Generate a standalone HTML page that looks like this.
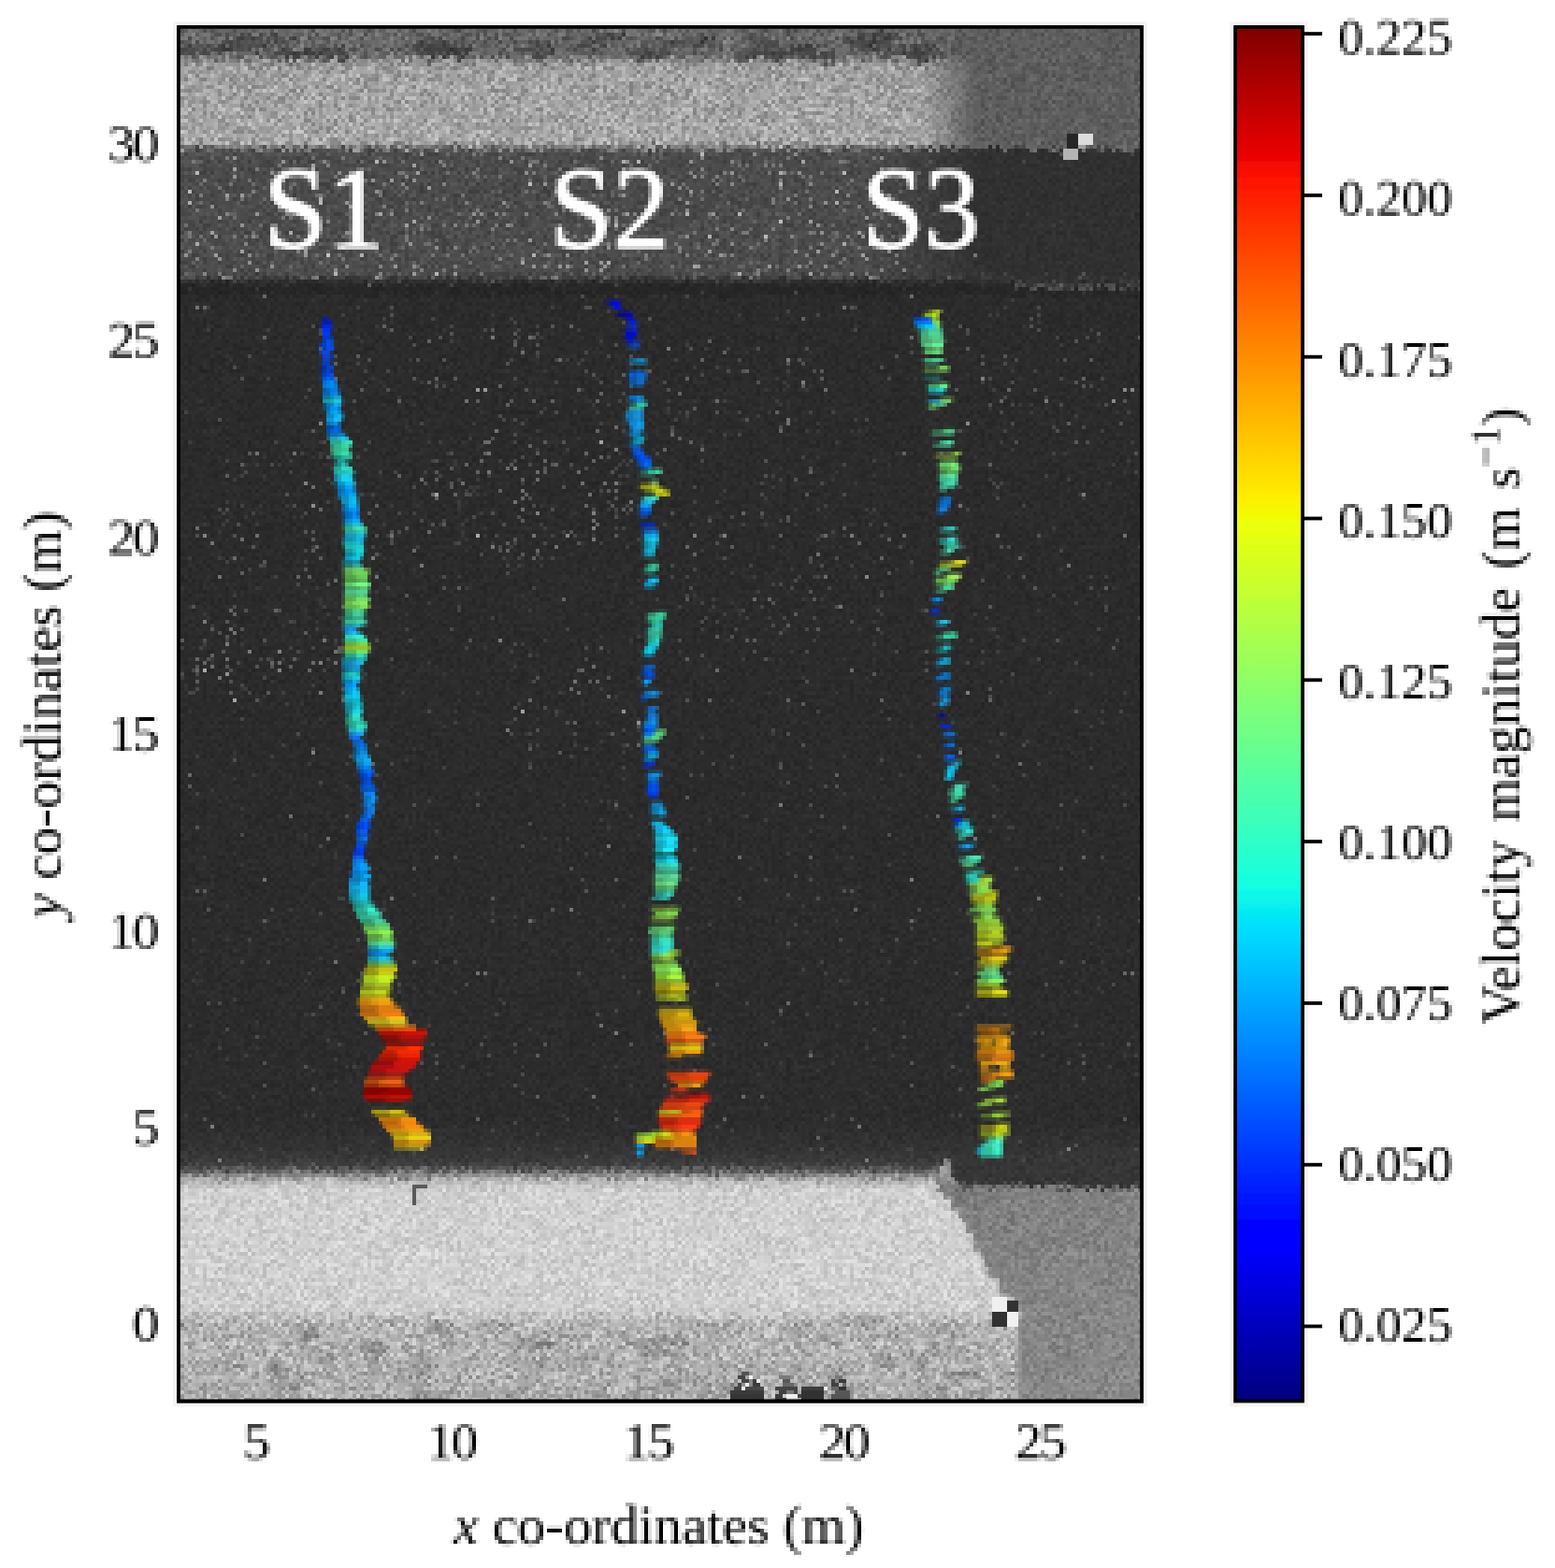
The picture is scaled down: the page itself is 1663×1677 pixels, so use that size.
<!DOCTYPE html>
<html lang="en"><head><meta charset="utf-8"><title>Velocity magnitude tracks</title>
<style>
html,body{margin:0;padding:0;background:#fff;}
svg{display:block;}
text{font-family:"Liberation Serif","DejaVu Serif",serif;fill:#000;}
.tk{font-size:58px;}
.lab{font-size:60px;}
.s{font-size:124px;fill:#fff;stroke:#fff;stroke-width:1.8px;}
.fI{filter:url(#imgF);}
.fB{filter:url(#fs);}
@media (min-resolution:.99dppx) and (max-resolution:1.01dppx){
.fI{filter:url(#img);}
.fD{filter:url(#fs);}.fT1{filter:url(#pxT1);}.fT2{filter:url(#pxT2);}.fT3{filter:url(#pxT3);}.fS{filter:url(#pxS);}.fC{filter:url(#pxC);}.fY{filter:url(#pxY);}.fX{filter:url(#pxX);}
.fL1{filter:url(#pxL1);}.fL2{filter:url(#pxL2);}.fL3{filter:url(#pxL3);}
}
</style></head><body>
<svg width="1663" height="1677" viewBox="0 0 1663 1677">
<defs>
<linearGradient id="jet" x1="0" y1="1" x2="0" y2="0">
<stop offset="0" stop-color="#000080"/>
<stop offset="0.11" stop-color="#0000ff"/>
<stop offset="0.125" stop-color="#0000ff"/>
<stop offset="0.34" stop-color="#00dbff"/>
<stop offset="0.35" stop-color="#00e5f7"/>
<stop offset="0.375" stop-color="#14ffe2"/>
<stop offset="0.5" stop-color="#7bff7b"/>
<stop offset="0.64" stop-color="#eeff08"/>
<stop offset="0.65" stop-color="#f7f600"/>
<stop offset="0.66" stop-color="#ffec00"/>
<stop offset="0.89" stop-color="#ff1300"/>
<stop offset="0.91" stop-color="#e80000"/>
<stop offset="1" stop-color="#800000"/>
</linearGradient>
<linearGradient id="vbase" gradientUnits="userSpaceOnUse" x1="0" y1="0" x2="0" y2="1677">
<stop offset="0.01789" stop-color="#6400cc"/><stop offset="0.03459" stop-color="#6400cc"/><stop offset="0.04174" stop-color="#a00099"/><stop offset="0.09183" stop-color="#a60099"/><stop offset="0.09600" stop-color="#4c5480"/><stop offset="0.11926" stop-color="#4a5480"/><stop offset="0.17531" stop-color="#4c5780"/><stop offset="0.18068" stop-color="#283859"/><stop offset="0.18545" stop-color="#243859"/><stop offset="0.18903" stop-color="#2b3966"/><stop offset="0.45319" stop-color="#2b3966"/><stop offset="0.53667" stop-color="#2b3866"/><stop offset="0.71556" stop-color="#2c3866"/><stop offset="0.73465" stop-color="#343866"/><stop offset="0.74299" stop-color="#3e3366"/><stop offset="0.74717" stop-color="#641a66"/><stop offset="0.75253" stop-color="#b4004c"/><stop offset="0.75850" stop-color="#d00045"/><stop offset="0.83363" stop-color="#cf004c"/><stop offset="0.84436" stop-color="#b40099"/><stop offset="0.89267" stop-color="#ac0099"/></linearGradient>
<linearGradient id="fadeR" gradientUnits="userSpaceOnUse" x1="930" y1="0" x2="1050" y2="0">
<stop offset="0" stop-color="#303059" stop-opacity="0"/><stop offset="1" stop-color="#303059" stop-opacity="1"/></linearGradient>
<linearGradient id="fadeTR" gradientUnits="userSpaceOnUse" x1="985" y1="0" x2="1045" y2="0">
<stop offset="0" stop-color="#5d1a73" stop-opacity="0"/><stop offset="1" stop-color="#5d1a73" stop-opacity="1"/></linearGradient>
<linearGradient id="brg" gradientUnits="userSpaceOnUse" x1="1000" y1="1262" x2="1220" y2="1500">
<stop offset="0" stop-color="#700066"/><stop offset="0.12" stop-color="#7e0066"/><stop offset="1" stop-color="#8a0066"/></linearGradient>
<clipPath id="imgclip"><rect x="191.8" y="29.8" width="1028.4" height="1467.8"/></clipPath>
<filter id="img" filterUnits="userSpaceOnUse" primitiveUnits="userSpaceOnUse" x="189" y="27" width="1036" height="1476" color-interpolation-filters="sRGB">
<feFlood flood-color="#fff" x="189" y="27" width="1" height="1" result="dot"/>
<feOffset in="dot" dx="0" dy="0" x="189" y="27" width="4" height="4" result="tile"/>
<feTile in="tile" result="lat"/>
<feTurbulence type="fractalNoise" baseFrequency="0.37 0.41" numOctaves="1" seed="7" result="t"/>
<feColorMatrix in="t" type="matrix" values="2.6 0 0 0 -0.8  0 1.4 0 0 -0.2  0 0 2.6 0 -0.8  0 0 0 0 1" result="tg"/>
<feComposite in="tg" in2="lat" operator="in" result="ts"/>
<feConvolveMatrix in="ts" order="4 1" kernelMatrix="1 1 1 1" divisor="1" targetX="3" targetY="0" edgeMode="none" preserveAlpha="false" result="nh"/>
<feConvolveMatrix in="nh" order="1 4" kernelMatrix="1 1 1 1" divisor="1" targetX="0" targetY="3" edgeMode="none" preserveAlpha="false" result="nb"/>
<feDisplacementMap in="SourceGraphic" in2="nb" scale="9" xChannelSelector="R" yChannelSelector="B" result="P"/>
<feColorMatrix in="P" type="matrix" values="1 0 0 0 0  1 0 0 0 0  1 0 0 0 0  0 0 0 0 1" result="L"/>
<feColorMatrix in="P" type="matrix" values="0 0 1 0 0  0 0 1 0 0  0 0 1 0 0  0 0 0 0 1" result="A"/>
<feColorMatrix in="P" type="matrix" values="0 1 0 0 0  0 1 0 0 0  0 1 0 0 0  0 0 0 0 1" result="D"/>
<feColorMatrix in="nb" type="matrix" values=".7 0 0 0 .15  .7 0 0 0 .15  .7 0 0 0 .15  0 0 0 0 1" result="N1"/>
<feColorMatrix in="nb" type="matrix" values="0 1 0 0 0  0 1 0 0 0  0 1 0 0 0  0 0 0 0 1" result="N2"/>
<feComposite in="A" in2="N1" operator="arithmetic" k1="1" k2="-0.5" k3="0" k4="0.5" result="T1"/>
<feComposite in="L" in2="T1" operator="arithmetic" k1="1" k2="0.5" k3="0" k4="0" result="G1"/>
<feComposite in="N2" in2="D" operator="arithmetic" k1="0" k2="1" k3="1" k4="-1" result="S0"/>
<feComponentTransfer in="S0" result="S1"><feFuncR type="linear" slope="4"/><feFuncG type="linear" slope="4"/><feFuncB type="linear" slope="4"/></feComponentTransfer>
<feComposite in="G1" in2="S1" operator="arithmetic" k1="0" k2="1" k3="0.5" k4="0" result="fin"/>
<feConvolveMatrix in="fin" order="4 1" kernelMatrix="1 1 1 1" divisor="4" targetX="0" targetY="0" edgeMode="duplicate" preserveAlpha="false" result="ah"/>
<feConvolveMatrix in="ah" order="1 4" kernelMatrix="1 1 1 1" divisor="4" targetX="0" targetY="0" edgeMode="duplicate" preserveAlpha="false" result="avg"/>
<feComposite in="avg" in2="lat" operator="in" result="smp"/>
<feConvolveMatrix in="smp" order="4 1" kernelMatrix="1 1 1 1" divisor="1" targetX="3" targetY="0" edgeMode="none" preserveAlpha="false" result="bh"/>
<feConvolveMatrix in="bh" order="1 4" kernelMatrix="1 1 1 1" divisor="1" targetX="0" targetY="3" edgeMode="none" preserveAlpha="false" result="blk"/>
<feGaussianBlur in="blk" stdDeviation="0.55"/>
</filter>
<filter id="imgF" filterUnits="userSpaceOnUse" primitiveUnits="userSpaceOnUse" x="189" y="27" width="1036" height="1476" color-interpolation-filters="sRGB">
<feTurbulence type="fractalNoise" baseFrequency="0.19 0.21" numOctaves="1" seed="7" result="t"/>
<feColorMatrix in="t" type="matrix" values="2.6 0 0 0 -0.8  0 1.4 0 0 -0.2  0 0 2.6 0 -0.8  0 0 0 0 1" result="nb"/>
<feDisplacementMap in="SourceGraphic" in2="nb" scale="9" xChannelSelector="R" yChannelSelector="B" result="P"/>
<feColorMatrix in="P" type="matrix" values="1 0 0 0 0  1 0 0 0 0  1 0 0 0 0  0 0 0 0 1" result="L"/>
<feColorMatrix in="P" type="matrix" values="0 0 1 0 0  0 0 1 0 0  0 0 1 0 0  0 0 0 0 1" result="A"/>
<feColorMatrix in="P" type="matrix" values="0 1 0 0 0  0 1 0 0 0  0 1 0 0 0  0 0 0 0 1" result="D"/>
<feColorMatrix in="nb" type="matrix" values=".7 0 0 0 .15  .7 0 0 0 .15  .7 0 0 0 .15  0 0 0 0 1" result="N1"/>
<feColorMatrix in="nb" type="matrix" values="0 1 0 0 0  0 1 0 0 0  0 1 0 0 0  0 0 0 0 1" result="N2"/>
<feComposite in="A" in2="N1" operator="arithmetic" k1="1" k2="-0.5" k3="0" k4="0.5" result="T1"/>
<feComposite in="L" in2="T1" operator="arithmetic" k1="1" k2="0.5" k3="0" k4="0" result="G1"/>
<feComposite in="N2" in2="D" operator="arithmetic" k1="0" k2="1" k3="1" k4="-1" result="S0"/>
<feComponentTransfer in="S0" result="S1"><feFuncR type="linear" slope="4"/><feFuncG type="linear" slope="4"/><feFuncB type="linear" slope="4"/></feComponentTransfer>
<feComposite in="G1" in2="S1" operator="arithmetic" k1="0" k2="1" k3="0.5" k4="0"/>
</filter>
<filter id="pxT1" filterUnits="userSpaceOnUse" primitiveUnits="userSpaceOnUse" x="329" y="327" width="144" height="916" color-interpolation-filters="sRGB">
<feFlood flood-color="#fff" x="333" y="331" width="1" height="1" result="dot"/>
<feOffset in="dot" dx="0" dy="0" x="333" y="331" width="4" height="4" result="tile"/>
<feTile in="tile" result="lat"/>
<feConvolveMatrix in="SourceGraphic" order="4 1" kernelMatrix="1 1 1 1" divisor="4" targetX="0" targetY="0" edgeMode="none" preserveAlpha="false" result="ah"/>
<feConvolveMatrix in="ah" order="1 4" kernelMatrix="1 1 1 1" divisor="4" targetX="0" targetY="0" edgeMode="none" preserveAlpha="false" result="avg"/>
<feComposite in="avg" in2="lat" operator="in" result="smp"/>
<feConvolveMatrix in="smp" order="4 1" kernelMatrix="1 1 1 1" divisor="1" targetX="3" targetY="0" edgeMode="none" preserveAlpha="false" result="bh"/>
<feConvolveMatrix in="bh" order="1 4" kernelMatrix="1 1 1 1" divisor="1" targetX="0" targetY="3" edgeMode="none" preserveAlpha="false" result="blk"/>
<feGaussianBlur in="blk" stdDeviation="0.55"/>
</filter>
<filter id="pxT2" filterUnits="userSpaceOnUse" primitiveUnits="userSpaceOnUse" x="637" y="307" width="136" height="944" color-interpolation-filters="sRGB">
<feFlood flood-color="#fff" x="641" y="311" width="1" height="1" result="dot"/>
<feOffset in="dot" dx="0" dy="0" x="641" y="311" width="4" height="4" result="tile"/>
<feTile in="tile" result="lat"/>
<feConvolveMatrix in="SourceGraphic" order="4 1" kernelMatrix="1 1 1 1" divisor="4" targetX="0" targetY="0" edgeMode="none" preserveAlpha="false" result="ah"/>
<feConvolveMatrix in="ah" order="1 4" kernelMatrix="1 1 1 1" divisor="4" targetX="0" targetY="0" edgeMode="none" preserveAlpha="false" result="avg"/>
<feComposite in="avg" in2="lat" operator="in" result="smp"/>
<feConvolveMatrix in="smp" order="4 1" kernelMatrix="1 1 1 1" divisor="1" targetX="3" targetY="0" edgeMode="none" preserveAlpha="false" result="bh"/>
<feConvolveMatrix in="bh" order="1 4" kernelMatrix="1 1 1 1" divisor="1" targetX="0" targetY="3" edgeMode="none" preserveAlpha="false" result="blk"/>
<feGaussianBlur in="blk" stdDeviation="0.55"/>
</filter>
<filter id="pxT3" filterUnits="userSpaceOnUse" primitiveUnits="userSpaceOnUse" x="965" y="319" width="128" height="932" color-interpolation-filters="sRGB">
<feFlood flood-color="#fff" x="969" y="323" width="1" height="1" result="dot"/>
<feOffset in="dot" dx="0" dy="0" x="969" y="323" width="4" height="4" result="tile"/>
<feTile in="tile" result="lat"/>
<feConvolveMatrix in="SourceGraphic" order="4 1" kernelMatrix="1 1 1 1" divisor="4" targetX="0" targetY="0" edgeMode="none" preserveAlpha="false" result="ah"/>
<feConvolveMatrix in="ah" order="1 4" kernelMatrix="1 1 1 1" divisor="4" targetX="0" targetY="0" edgeMode="none" preserveAlpha="false" result="avg"/>
<feComposite in="avg" in2="lat" operator="in" result="smp"/>
<feConvolveMatrix in="smp" order="4 1" kernelMatrix="1 1 1 1" divisor="1" targetX="3" targetY="0" edgeMode="none" preserveAlpha="false" result="bh"/>
<feConvolveMatrix in="bh" order="1 4" kernelMatrix="1 1 1 1" divisor="1" targetX="0" targetY="3" edgeMode="none" preserveAlpha="false" result="blk"/>
<feGaussianBlur in="blk" stdDeviation="0.55"/>
</filter>
<filter id="pxS" filterUnits="userSpaceOnUse" primitiveUnits="userSpaceOnUse" x="269" y="163" width="792" height="120" color-interpolation-filters="sRGB">
<feFlood flood-color="#fff" x="273" y="167" width="1" height="1" result="dot"/>
<feOffset in="dot" dx="0" dy="0" x="273" y="167" width="4" height="4" result="tile"/>
<feTile in="tile" result="lat"/>
<feConvolveMatrix in="SourceGraphic" order="4 1" kernelMatrix="1 1 1 1" divisor="4" targetX="0" targetY="0" edgeMode="none" preserveAlpha="false" result="ah"/>
<feConvolveMatrix in="ah" order="1 4" kernelMatrix="1 1 1 1" divisor="4" targetX="0" targetY="0" edgeMode="none" preserveAlpha="false" result="avg"/>
<feComposite in="avg" in2="lat" operator="in" result="smp"/>
<feConvolveMatrix in="smp" order="4 1" kernelMatrix="1 1 1 1" divisor="1" targetX="3" targetY="0" edgeMode="none" preserveAlpha="false" result="bh"/>
<feConvolveMatrix in="bh" order="1 4" kernelMatrix="1 1 1 1" divisor="1" targetX="0" targetY="3" edgeMode="none" preserveAlpha="false" result="blk"/>
<feGaussianBlur in="blk" stdDeviation="0.55"/>
</filter>
<filter id="pxY" filterUnits="userSpaceOnUse" primitiveUnits="userSpaceOnUse" x="97" y="119" width="84" height="1332" color-interpolation-filters="sRGB">
<feFlood flood-color="#fff" x="101" y="123" width="1" height="1" result="dot"/>
<feOffset in="dot" dx="0" dy="0" x="101" y="123" width="4" height="4" result="tile"/>
<feTile in="tile" result="lat"/>
<feConvolveMatrix in="SourceGraphic" order="4 1" kernelMatrix="1 1 1 1" divisor="4" targetX="0" targetY="0" edgeMode="none" preserveAlpha="false" result="ah"/>
<feConvolveMatrix in="ah" order="1 4" kernelMatrix="1 1 1 1" divisor="4" targetX="0" targetY="0" edgeMode="none" preserveAlpha="false" result="avg"/>
<feComposite in="avg" in2="lat" operator="in" result="smp"/>
<feConvolveMatrix in="smp" order="4 1" kernelMatrix="1 1 1 1" divisor="1" targetX="3" targetY="0" edgeMode="none" preserveAlpha="false" result="bh"/>
<feConvolveMatrix in="bh" order="1 4" kernelMatrix="1 1 1 1" divisor="1" targetX="0" targetY="3" edgeMode="none" preserveAlpha="false" result="blk"/>
<feGaussianBlur in="blk" stdDeviation="0.55"/>
</filter>
<filter id="pxX" filterUnits="userSpaceOnUse" primitiveUnits="userSpaceOnUse" x="237" y="1503" width="924" height="72" color-interpolation-filters="sRGB">
<feFlood flood-color="#fff" x="241" y="1507" width="1" height="1" result="dot"/>
<feOffset in="dot" dx="0" dy="0" x="241" y="1507" width="4" height="4" result="tile"/>
<feTile in="tile" result="lat"/>
<feConvolveMatrix in="SourceGraphic" order="4 1" kernelMatrix="1 1 1 1" divisor="4" targetX="0" targetY="0" edgeMode="none" preserveAlpha="false" result="ah"/>
<feConvolveMatrix in="ah" order="1 4" kernelMatrix="1 1 1 1" divisor="4" targetX="0" targetY="0" edgeMode="none" preserveAlpha="false" result="avg"/>
<feComposite in="avg" in2="lat" operator="in" result="smp"/>
<feConvolveMatrix in="smp" order="4 1" kernelMatrix="1 1 1 1" divisor="1" targetX="3" targetY="0" edgeMode="none" preserveAlpha="false" result="bh"/>
<feConvolveMatrix in="bh" order="1 4" kernelMatrix="1 1 1 1" divisor="1" targetX="0" targetY="3" edgeMode="none" preserveAlpha="false" result="blk"/>
<feGaussianBlur in="blk" stdDeviation="0.55"/>
</filter>
<filter id="pxC" filterUnits="userSpaceOnUse" primitiveUnits="userSpaceOnUse" x="1417" y="3" width="156" height="1452" color-interpolation-filters="sRGB">
<feFlood flood-color="#fff" x="1421" y="7" width="1" height="1" result="dot"/>
<feOffset in="dot" dx="0" dy="0" x="1421" y="7" width="4" height="4" result="tile"/>
<feTile in="tile" result="lat"/>
<feConvolveMatrix in="SourceGraphic" order="4 1" kernelMatrix="1 1 1 1" divisor="4" targetX="0" targetY="0" edgeMode="none" preserveAlpha="false" result="ah"/>
<feConvolveMatrix in="ah" order="1 4" kernelMatrix="1 1 1 1" divisor="4" targetX="0" targetY="0" edgeMode="none" preserveAlpha="false" result="avg"/>
<feComposite in="avg" in2="lat" operator="in" result="smp"/>
<feConvolveMatrix in="smp" order="4 1" kernelMatrix="1 1 1 1" divisor="1" targetX="3" targetY="0" edgeMode="none" preserveAlpha="false" result="bh"/>
<feConvolveMatrix in="bh" order="1 4" kernelMatrix="1 1 1 1" divisor="1" targetX="0" targetY="3" edgeMode="none" preserveAlpha="false" result="blk"/>
<feGaussianBlur in="blk" stdDeviation="0.55"/>
</filter>
<filter id="pxL1" filterUnits="userSpaceOnUse" primitiveUnits="userSpaceOnUse" x="469" y="1595" width="472" height="80" color-interpolation-filters="sRGB">
<feFlood flood-color="#fff" x="473" y="1599" width="1" height="1" result="dot"/>
<feOffset in="dot" dx="0" dy="0" x="473" y="1599" width="4" height="4" result="tile"/>
<feTile in="tile" result="lat"/>
<feConvolveMatrix in="SourceGraphic" order="4 1" kernelMatrix="1 1 1 1" divisor="4" targetX="0" targetY="0" edgeMode="none" preserveAlpha="false" result="ah"/>
<feConvolveMatrix in="ah" order="1 4" kernelMatrix="1 1 1 1" divisor="4" targetX="0" targetY="0" edgeMode="none" preserveAlpha="false" result="avg"/>
<feComposite in="avg" in2="lat" operator="in" result="smp"/>
<feConvolveMatrix in="smp" order="4 1" kernelMatrix="1 1 1 1" divisor="1" targetX="3" targetY="0" edgeMode="none" preserveAlpha="false" result="bh"/>
<feConvolveMatrix in="bh" order="1 4" kernelMatrix="1 1 1 1" divisor="1" targetX="0" targetY="3" edgeMode="none" preserveAlpha="false" result="blk"/>
<feGaussianBlur in="blk" stdDeviation="0.55"/>
</filter>
<filter id="pxL2" filterUnits="userSpaceOnUse" primitiveUnits="userSpaceOnUse" x="9" y="527" width="92" height="484" color-interpolation-filters="sRGB">
<feFlood flood-color="#fff" x="13" y="531" width="1" height="1" result="dot"/>
<feOffset in="dot" dx="0" dy="0" x="13" y="531" width="4" height="4" result="tile"/>
<feTile in="tile" result="lat"/>
<feConvolveMatrix in="SourceGraphic" order="4 1" kernelMatrix="1 1 1 1" divisor="4" targetX="0" targetY="0" edgeMode="none" preserveAlpha="false" result="ah"/>
<feConvolveMatrix in="ah" order="1 4" kernelMatrix="1 1 1 1" divisor="4" targetX="0" targetY="0" edgeMode="none" preserveAlpha="false" result="avg"/>
<feComposite in="avg" in2="lat" operator="in" result="smp"/>
<feConvolveMatrix in="smp" order="4 1" kernelMatrix="1 1 1 1" divisor="1" targetX="3" targetY="0" edgeMode="none" preserveAlpha="false" result="bh"/>
<feConvolveMatrix in="bh" order="1 4" kernelMatrix="1 1 1 1" divisor="1" targetX="0" targetY="3" edgeMode="none" preserveAlpha="false" result="blk"/>
<feGaussianBlur in="blk" stdDeviation="0.55"/>
</filter>
<filter id="pxL3" filterUnits="userSpaceOnUse" primitiveUnits="userSpaceOnUse" x="1565" y="419" width="92" height="692" color-interpolation-filters="sRGB">
<feFlood flood-color="#fff" x="1569" y="423" width="1" height="1" result="dot"/>
<feOffset in="dot" dx="0" dy="0" x="1569" y="423" width="4" height="4" result="tile"/>
<feTile in="tile" result="lat"/>
<feConvolveMatrix in="SourceGraphic" order="4 1" kernelMatrix="1 1 1 1" divisor="4" targetX="0" targetY="0" edgeMode="none" preserveAlpha="false" result="ah"/>
<feConvolveMatrix in="ah" order="1 4" kernelMatrix="1 1 1 1" divisor="4" targetX="0" targetY="0" edgeMode="none" preserveAlpha="false" result="avg"/>
<feComposite in="avg" in2="lat" operator="in" result="smp"/>
<feConvolveMatrix in="smp" order="4 1" kernelMatrix="1 1 1 1" divisor="1" targetX="3" targetY="0" edgeMode="none" preserveAlpha="false" result="bh"/>
<feConvolveMatrix in="bh" order="1 4" kernelMatrix="1 1 1 1" divisor="1" targetX="0" targetY="3" edgeMode="none" preserveAlpha="false" result="blk"/>
<feGaussianBlur in="blk" stdDeviation="0.55"/>
</filter>
<filter id="fs" x="-5%" y="-5%" width="110%" height="110%"><feGaussianBlur stdDeviation="0.5"/></filter>
</defs>
<rect x="0" y="0" width="1663" height="1677" fill="#fff"/>
<rect x="185.0" y="23.0" width="1042.0" height="1481.4" fill="#f4f4f4" class="fB"/>
<rect x="189.0" y="27.0" width="1034.0" height="1473.4" fill="#000"/>
<g clip-path="url(#imgclip)">
<g class="fI">
<rect x="165" y="3" width="1084" height="1524" fill="url(#vbase)"/>
<ellipse cx="560" cy="530" rx="120" ry="75" fill="#2c5766" opacity="0.8"/>
<ellipse cx="270" cy="700" rx="100" ry="50" fill="#2c5c66" opacity="0.8"/>
<ellipse cx="700" cy="420" rx="200" ry="60" fill="#2c4c66" opacity="0.8"/>
<ellipse cx="330" cy="560" rx="120" ry="90" fill="#2c4c66" opacity="0.8"/>
<ellipse cx="850" cy="600" rx="120" ry="120" fill="#2c4766" opacity="0.8"/>
<ellipse cx="1120" cy="420" rx="90" ry="80" fill="#2c4766" opacity="0.8"/>
<ellipse cx="620" cy="760" rx="90" ry="50" fill="#2c4c66" opacity="0.8"/>
<ellipse cx="480" cy="380" rx="150" ry="40" fill="#2c4c66" opacity="0.8"/>
<ellipse cx="695" cy="57" rx="23" ry="9" fill="#3e00b2" opacity="0.71"/><ellipse cx="937" cy="43" rx="17" ry="9" fill="#3e00b2" opacity="0.68"/><ellipse cx="920" cy="44" rx="17" ry="5" fill="#3e00b2" opacity="0.64"/><ellipse cx="655" cy="42" rx="13" ry="5" fill="#3e00b2" opacity="0.77"/><ellipse cx="810" cy="45" rx="23" ry="5" fill="#3e00b2" opacity="0.67"/><ellipse cx="293" cy="42" rx="24" ry="5" fill="#3e00b2" opacity="0.53"/><ellipse cx="986" cy="59" rx="14" ry="9" fill="#3e00b2" opacity="0.64"/><ellipse cx="739" cy="46" rx="25" ry="7" fill="#3e00b2" opacity="0.79"/><ellipse cx="914" cy="48" rx="15" ry="5" fill="#3e00b2" opacity="0.50"/><ellipse cx="243" cy="48" rx="19" ry="4" fill="#3e00b2" opacity="0.69"/><ellipse cx="464" cy="48" rx="23" ry="6" fill="#3e00b2" opacity="0.56"/><ellipse cx="580" cy="56" rx="10" ry="9" fill="#3e00b2" opacity="0.46"/><ellipse cx="797" cy="59" rx="9" ry="8" fill="#3e00b2" opacity="0.58"/><ellipse cx="659" cy="42" rx="10" ry="5" fill="#3e00b2" opacity="0.78"/><ellipse cx="349" cy="57" rx="25" ry="9" fill="#3e00b2" opacity="0.57"/><ellipse cx="477" cy="52" rx="22" ry="5" fill="#3e00b2" opacity="0.71"/><ellipse cx="836" cy="59" rx="10" ry="9" fill="#3e00b2" opacity="0.48"/><ellipse cx="466" cy="54" rx="25" ry="6" fill="#3e00b2" opacity="0.77"/><ellipse cx="632" cy="48" rx="14" ry="5" fill="#3e00b2" opacity="0.48"/><ellipse cx="311" cy="56" rx="26" ry="5" fill="#3e00b2" opacity="0.47"/><ellipse cx="989" cy="53" rx="16" ry="5" fill="#3e00b2" opacity="0.66"/><ellipse cx="859" cy="51" rx="16" ry="4" fill="#3e00b2" opacity="0.77"/><ellipse cx="217" cy="52" rx="23" ry="5" fill="#3e00b2" opacity="0.71"/><ellipse cx="959" cy="55" rx="22" ry="5" fill="#3e00b2" opacity="0.60"/><ellipse cx="311" cy="59" rx="14" ry="6" fill="#3e00b2" opacity="0.80"/><ellipse cx="880" cy="62" rx="17" ry="6" fill="#3e00b2" opacity="0.71"/><ellipse cx="578" cy="48" rx="16" ry="5" fill="#3e00b2" opacity="0.58"/><ellipse cx="991" cy="61" rx="20" ry="6" fill="#3e00b2" opacity="0.57"/><ellipse cx="262" cy="47" rx="22" ry="8" fill="#3e00b2" opacity="0.58"/><ellipse cx="827" cy="57" rx="21" ry="7" fill="#3e00b2" opacity="0.72"/><ellipse cx="484" cy="56" rx="14" ry="6" fill="#3e00b2" opacity="0.72"/><ellipse cx="750" cy="48" rx="25" ry="7" fill="#3e00b2" opacity="0.65"/><ellipse cx="199" cy="53" rx="13" ry="7" fill="#3e00b2" opacity="0.61"/><ellipse cx="852" cy="55" rx="23" ry="6" fill="#3e00b2" opacity="0.68"/><ellipse cx="788" cy="47" rx="14" ry="7" fill="#7d0099" opacity="0.56"/><ellipse cx="748" cy="50" rx="21" ry="6" fill="#7d0099" opacity="0.46"/><ellipse cx="325" cy="47" rx="21" ry="6" fill="#7d0099" opacity="0.51"/><ellipse cx="773" cy="45" rx="11" ry="7" fill="#7d0099" opacity="0.47"/><ellipse cx="729" cy="38" rx="17" ry="7" fill="#7d0099" opacity="0.49"/><ellipse cx="774" cy="31" rx="11" ry="6" fill="#7d0099" opacity="0.50"/><ellipse cx="367" cy="44" rx="17" ry="4" fill="#7d0099" opacity="0.44"/><ellipse cx="373" cy="31" rx="11" ry="5" fill="#7d0099" opacity="0.35"/><ellipse cx="347" cy="31" rx="15" ry="6" fill="#7d0099" opacity="0.48"/><ellipse cx="668" cy="35" rx="21" ry="4" fill="#7d0099" opacity="0.42"/><ellipse cx="416" cy="38" rx="10" ry="7" fill="#7d0099" opacity="0.41"/><ellipse cx="219" cy="42" rx="10" ry="6" fill="#7d0099" opacity="0.40"/><ellipse cx="661" cy="49" rx="20" ry="6" fill="#7d0099" opacity="0.54"/><ellipse cx="710" cy="37" rx="11" ry="6" fill="#7d0099" opacity="0.47"/><ellipse cx="1042" cy="1493" rx="15" ry="6" fill="#800099" opacity="0.57"/><ellipse cx="191" cy="1421" rx="14" ry="7" fill="#800099" opacity="0.34"/><ellipse cx="750" cy="1487" rx="11" ry="6" fill="#800099" opacity="0.37"/><ellipse cx="449" cy="1494" rx="11" ry="9" fill="#800099" opacity="0.57"/><ellipse cx="720" cy="1434" rx="20" ry="6" fill="#800099" opacity="0.42"/><ellipse cx="474" cy="1495" rx="13" ry="5" fill="#800099" opacity="0.44"/><ellipse cx="298" cy="1464" rx="12" ry="5" fill="#800099" opacity="0.53"/><ellipse cx="926" cy="1413" rx="13" ry="5" fill="#800099" opacity="0.58"/><ellipse cx="886" cy="1433" rx="10" ry="5" fill="#800099" opacity="0.60"/><ellipse cx="451" cy="1463" rx="13" ry="7" fill="#800099" opacity="0.48"/><ellipse cx="852" cy="1422" rx="17" ry="6" fill="#800099" opacity="0.46"/><ellipse cx="489" cy="1437" rx="13" ry="6" fill="#800099" opacity="0.41"/><ellipse cx="853" cy="1462" rx="7" ry="5" fill="#800099" opacity="0.44"/><ellipse cx="1006" cy="1487" rx="14" ry="4" fill="#800099" opacity="0.53"/><ellipse cx="571" cy="1460" rx="16" ry="7" fill="#800099" opacity="0.44"/><ellipse cx="1001" cy="1444" rx="11" ry="8" fill="#800099" opacity="0.36"/><ellipse cx="454" cy="1482" rx="7" ry="8" fill="#800099" opacity="0.51"/><ellipse cx="575" cy="1436" rx="17" ry="9" fill="#800099" opacity="0.34"/><ellipse cx="616" cy="1458" rx="13" ry="6" fill="#800099" opacity="0.35"/><ellipse cx="711" cy="1480" rx="7" ry="5" fill="#800099" opacity="0.55"/><ellipse cx="895" cy="1468" rx="6" ry="8" fill="#800099" opacity="0.59"/><ellipse cx="1079" cy="1471" rx="7" ry="8" fill="#800099" opacity="0.37"/><ellipse cx="765" cy="1492" rx="16" ry="5" fill="#800099" opacity="0.39"/><ellipse cx="1007" cy="1425" rx="15" ry="6" fill="#800099" opacity="0.35"/><ellipse cx="744" cy="1416" rx="8" ry="6" fill="#800099" opacity="0.32"/><ellipse cx="241" cy="1460" rx="16" ry="8" fill="#800099" opacity="0.34"/><ellipse cx="574" cy="1438" rx="14" ry="6" fill="#800099" opacity="0.58"/><ellipse cx="523" cy="1417" rx="16" ry="5" fill="#800099" opacity="0.49"/><ellipse cx="640" cy="1488" rx="14" ry="7" fill="#800099" opacity="0.38"/><ellipse cx="681" cy="1433" rx="17" ry="7" fill="#800099" opacity="0.34"/><ellipse cx="399" cy="1443" rx="16" ry="5" fill="#800099" opacity="0.51"/><ellipse cx="773" cy="1419" rx="15" ry="4" fill="#800099" opacity="0.34"/><ellipse cx="719" cy="1432" rx="18" ry="6" fill="#800099" opacity="0.40"/><ellipse cx="899" cy="1414" rx="16" ry="4" fill="#800099" opacity="0.35"/><ellipse cx="1037" cy="1469" rx="9" ry="5" fill="#800099" opacity="0.59"/><ellipse cx="782" cy="1481" rx="8" ry="7" fill="#800099" opacity="0.41"/><ellipse cx="399" cy="1440" rx="15" ry="6" fill="#800099" opacity="0.42"/><ellipse cx="311" cy="1482" rx="15" ry="8" fill="#800099" opacity="0.43"/><ellipse cx="948" cy="1455" rx="14" ry="7" fill="#800099" opacity="0.52"/><ellipse cx="542" cy="1420" rx="6" ry="5" fill="#800099" opacity="0.31"/><ellipse cx="981" cy="1452" rx="17" ry="4" fill="#800099" opacity="0.44"/><ellipse cx="982" cy="1464" rx="12" ry="6" fill="#800099" opacity="0.33"/><ellipse cx="328" cy="1425" rx="11" ry="6" fill="#800099" opacity="0.56"/><ellipse cx="325" cy="1433" rx="10" ry="5" fill="#800099" opacity="0.39"/><ellipse cx="399" cy="1452" rx="6" ry="9" fill="#800099" opacity="0.41"/><ellipse cx="1025" cy="1470" rx="15" ry="6" fill="#800099" opacity="0.58"/><ellipse cx="295" cy="1468" rx="10" ry="7" fill="#800099" opacity="0.52"/><ellipse cx="335" cy="1429" rx="6" ry="5" fill="#800099" opacity="0.32"/><ellipse cx="547" cy="1494" rx="11" ry="6" fill="#800099" opacity="0.44"/><ellipse cx="442" cy="1474" rx="16" ry="5" fill="#800099" opacity="0.37"/><ellipse cx="788" cy="1491" rx="15" ry="6" fill="#800099" opacity="0.59"/><ellipse cx="196" cy="1417" rx="17" ry="6" fill="#800099" opacity="0.31"/><ellipse cx="678" cy="1495" rx="13" ry="6" fill="#800099" opacity="0.33"/><ellipse cx="253" cy="1487" rx="13" ry="9" fill="#800099" opacity="0.32"/><ellipse cx="407" cy="1416" rx="12" ry="4" fill="#800099" opacity="0.38"/><ellipse cx="553" cy="1438" rx="7" ry="4" fill="#800099" opacity="0.59"/><ellipse cx="350" cy="1455" rx="12" ry="7" fill="#800099" opacity="0.33"/><ellipse cx="469" cy="1421" rx="14" ry="9" fill="#800099" opacity="0.48"/><ellipse cx="953" cy="1430" rx="6" ry="7" fill="#800099" opacity="0.45"/><ellipse cx="699" cy="1444" rx="15" ry="8" fill="#800099" opacity="0.57"/>
<rect x="950" y="3" width="300" height="154" fill="url(#fadeTR)"/>
<polygon points="930,157 1250,162 1250,297 930,297" fill="url(#fadeR)"/>
<rect x="1090" y="304" width="160" height="5" fill="#50404c"/>
<polygon points="1018,1238 1250,1238 1250,1272 1030,1270 1018,1262" fill="#363366"/>
<polygon points="996,1262 1030,1268 1250,1271 1250,1530 1090,1530 1090,1397 1074,1383 1058,1362 1042,1330 1026,1297" fill="url(#brg)"/>
<polygon points="1003,1262 1009,1247 1013,1241 1017,1247 1022,1266" fill="#960066"/>
</g>
<g class="fD">
<rect x="1061" y="1387" width="16" height="16" fill="#f0f0f0"/><rect x="1077" y="1391" width="12" height="12" fill="#303030"/><rect x="1061" y="1403" width="16" height="16" fill="#303030"/><rect x="1077" y="1403" width="12" height="16" fill="#f0f0f0"/>
<rect x="1141" y="143" width="12" height="16" fill="#262626"/><rect x="1153" y="143" width="16" height="12" fill="#dcdcdc"/><rect x="1137" y="159" width="16" height="12" fill="#b4b4b4"/><rect x="1153" y="155" width="8" height="4" fill="#a0a0a0"/>
<rect x="793" y="1467" width="8" height="4" fill="#555"/><rect x="789" y="1471" width="8" height="4" fill="#444"/><rect x="801" y="1471" width="4" height="4" fill="#f4f4f4"/><rect x="793" y="1475" width="8" height="4" fill="#444"/><rect x="801" y="1475" width="4" height="4" fill="#888"/><rect x="805" y="1475" width="4" height="4" fill="#3c3c3c"/><rect x="809" y="1475" width="4" height="4" fill="#f0f0f0"/><rect x="789" y="1479" width="4" height="4" fill="#444"/><rect x="797" y="1479" width="4" height="4" fill="#f0f0f0"/><rect x="801" y="1479" width="4" height="4" fill="#888"/><rect x="805" y="1479" width="8" height="4" fill="#3c3c3c"/><rect x="785" y="1483" width="8" height="4" fill="#444"/><rect x="793" y="1483" width="4" height="4" fill="#f0f0f0"/><rect x="797" y="1483" width="20" height="4" fill="#484848"/><rect x="781" y="1487" width="36" height="4" fill="#3a3a3a"/><rect x="781" y="1491" width="36" height="4" fill="#363636"/><rect x="781" y="1495" width="36" height="4" fill="#363636"/><rect x="833" y="1471" width="12" height="4" fill="#7a7a7a"/><rect x="837" y="1475" width="8" height="4" fill="#585858"/><rect x="837" y="1479" width="12" height="4" fill="#666"/><rect x="829" y="1483" width="24" height="4" fill="#444"/><rect x="833" y="1487" width="8" height="4" fill="#404040"/><rect x="841" y="1487" width="8" height="4" fill="#777"/><rect x="849" y="1487" width="4" height="4" fill="#444"/><rect x="829" y="1491" width="8" height="4" fill="#3c3c3c"/><rect x="841" y="1491" width="12" height="4" fill="#f0f0f0"/><rect x="853" y="1491" width="4" height="4" fill="#444"/><rect x="829" y="1495" width="12" height="4" fill="#3c3c3c"/><rect x="841" y="1495" width="12" height="4" fill="#ddd"/><rect x="857" y="1483" width="24" height="4" fill="#3c3c3c"/><rect x="857" y="1487" width="24" height="4" fill="#333"/><rect x="857" y="1491" width="24" height="4" fill="#333"/><rect x="857" y="1495" width="24" height="4" fill="#333"/><rect x="893" y="1471" width="8" height="4" fill="#777"/><rect x="889" y="1475" width="4" height="4" fill="#444"/><rect x="897" y="1475" width="8" height="4" fill="#3a3a3a"/><rect x="889" y="1479" width="8" height="4" fill="#404040"/><rect x="901" y="1479" width="4" height="4" fill="#666"/><rect x="881" y="1483" width="4" height="4" fill="#eee"/><rect x="889" y="1483" width="8" height="4" fill="#666"/><rect x="897" y="1483" width="8" height="4" fill="#333"/><rect x="893" y="1487" width="16" height="4" fill="#585858"/><rect x="889" y="1491" width="20" height="4" fill="#555"/><rect x="889" y="1495" width="20" height="4" fill="#555"/>
<rect x="441" y="1267" width="16" height="4" fill="#5a5a5a"/><rect x="441" y="1267" width="4" height="22" fill="#5a5a5a"/>
</g>
<g class="fT1">
<rect x="343.7" y="340.8" width="9.3" height="3.0" fill="#0014d8"/>
<rect x="344.8" y="342.9" width="10.1" height="4.4" fill="#0019c0"/>
<rect x="343.9" y="346.3" width="10.2" height="4.4" fill="#0022d3"/>
<rect x="344.0" y="349.8" width="11.0" height="4.4" fill="#0030ff"/>
<rect x="344.9" y="354.4" width="8.4" height="4.4" fill="#003afb"/>
<rect x="345.0" y="359.0" width="10.3" height="4.4" fill="#0038ce"/>
<rect x="344.0" y="363.6" width="6.4" height="4.4" fill="#003dc3"/>
<rect x="349.9" y="363.6" width="6.1" height="4.4" fill="#0059ff"/>
<rect x="342.5" y="367.2" width="8.0" height="4.4" fill="#0340cc"/>
<rect x="350.0" y="367.2" width="5.4" height="4.4" fill="#0453ff"/>
<rect x="343.2" y="370.7" width="6.4" height="4.4" fill="#0638b3"/>
<rect x="349.1" y="370.7" width="8.7" height="4.4" fill="#0849ed"/>
<rect x="342.6" y="374.2" width="10.3" height="4.4" fill="#0d48e7"/>
<rect x="344.0" y="377.8" width="11.0" height="4.4" fill="#1040d0"/>
<rect x="345.3" y="382.1" width="9.5" height="4.4" fill="#0c40cf"/>
<rect x="343.8" y="386.4" width="9.7" height="4.4" fill="#083dc3"/>
<rect x="343.8" y="390.8" width="7.0" height="4.4" fill="#05309d"/>
<rect x="350.3" y="390.8" width="5.9" height="4.4" fill="#0746e4"/>
<rect x="343.2" y="395.1" width="4.9" height="4.4" fill="#0232a3"/>
<rect x="347.6" y="395.1" width="7.6" height="4.4" fill="#0342d3"/>
<rect x="344.0" y="399.4" width="7.6" height="4.4" fill="#0040cd"/>
<rect x="351.1" y="399.4" width="5.9" height="4.4" fill="#0054ff"/>
<rect x="343.7" y="402.9" width="5.6" height="4.4" fill="#0051cd"/>
<rect x="348.8" y="402.9" width="6.8" height="4.4" fill="#0061f6"/>
<rect x="344.8" y="406.3" width="6.5" height="4.4" fill="#0068d1"/>
<rect x="350.8" y="406.3" width="8.9" height="4.4" fill="#0082ff"/>
<rect x="345.0" y="409.8" width="6.2" height="4.4" fill="#0083e8"/>
<rect x="350.7" y="409.8" width="9.3" height="4.4" fill="#009bff"/>
<rect x="346.5" y="413.8" width="8.9" height="4.4" fill="#006bc3"/>
<rect x="354.9" y="413.8" width="7.9" height="4.4" fill="#0078da"/>
<rect x="345.0" y="417.8" width="8.1" height="4.4" fill="#0069c4"/>
<rect x="352.6" y="417.8" width="9.4" height="4.4" fill="#0085f9"/>
<rect x="344.5" y="421.8" width="11.2" height="4.4" fill="#09658b"/>
<rect x="355.2" y="421.8" width="9.9" height="4.4" fill="#0e92ca"/>
<rect x="345.0" y="425.8" width="10.7" height="4.4" fill="#1aa6b3"/>
<rect x="355.2" y="425.8" width="10.8" height="4.4" fill="#1fccdc"/>
<rect x="347.3" y="429.8" width="9.6" height="4.4" fill="#0c7fa8"/>
<rect x="356.4" y="429.8" width="8.2" height="4.4" fill="#11baf6"/>
<rect x="347.0" y="433.8" width="7.1" height="4.4" fill="#0069af"/>
<rect x="353.6" y="433.8" width="10.4" height="4.4" fill="#0091f1"/>
<rect x="348.2" y="437.8" width="6.2" height="4.4" fill="#057abf"/>
<rect x="353.9" y="437.8" width="9.8" height="4.4" fill="#06aeff"/>
<rect x="349.5" y="441.8" width="9.9" height="4.4" fill="#0885c2"/>
<rect x="358.8" y="441.8" width="8.2" height="4.4" fill="#0bb1ff"/>
<rect x="349.0" y="445.8" width="8.5" height="4.4" fill="#0d9ad5"/>
<rect x="357.0" y="445.8" width="9.0" height="4.4" fill="#12cbff"/>
<rect x="349.3" y="450.0" width="6.4" height="4.4" fill="#0986d8"/>
<rect x="355.1" y="450.0" width="7.9" height="4.4" fill="#0b9dfd"/>
<rect x="349.9" y="454.2" width="8.0" height="4.4" fill="#044f9a"/>
<rect x="357.4" y="454.2" width="6.9" height="4.4" fill="#056cd3"/>
<rect x="349.0" y="458.4" width="5.9" height="4.4" fill="#004dc0"/>
<rect x="354.4" y="458.4" width="9.6" height="4.4" fill="#006bff"/>
<rect x="350.5" y="462.5" width="11.2" height="4.4" fill="#0d6cad"/>
<rect x="361.2" y="462.5" width="8.1" height="4.4" fill="#0e76bd"/>
<rect x="351.3" y="466.7" width="11.6" height="4.4" fill="#1da1b9"/>
<rect x="362.4" y="466.7" width="10.0" height="4.4" fill="#23c4e1"/>
<rect x="353.0" y="470.8" width="13.7" height="4.4" fill="#24a990"/>
<rect x="366.2" y="470.8" width="10.8" height="4.4" fill="#30e1c1"/>
<rect x="354.3" y="474.3" width="12.2" height="4.4" fill="#2fb28d"/>
<rect x="366.0" y="474.3" width="9.6" height="4.4" fill="#3bddaf"/>
<rect x="354.0" y="477.8" width="9.7" height="4.4" fill="#3bb985"/>
<rect x="363.2" y="477.8" width="10.8" height="4.4" fill="#40c890"/>
<rect x="354.5" y="481.3" width="11.5" height="4.4" fill="#2fb287"/>
<rect x="365.5" y="481.3" width="7.7" height="4.4" fill="#34c696"/>
<rect x="355.0" y="484.8" width="8.6" height="4.4" fill="#29be95"/>
<rect x="363.1" y="484.8" width="13.9" height="4.4" fill="#34f1bd"/>
<rect x="358.1" y="488.3" width="8.3" height="4.4" fill="#177264"/>
<rect x="365.9" y="488.3" width="10.0" height="4.4" fill="#219f8b"/>
<rect x="360.0" y="491.8" width="10.0" height="4.4" fill="#20a0a0"/>
<rect x="357.7" y="495.7" width="8.4" height="4.4" fill="#1d897e"/>
<rect x="365.6" y="495.7" width="6.3" height="4.4" fill="#2bcebd"/>
<rect x="356.0" y="499.5" width="9.2" height="4.4" fill="#25ac93"/>
<rect x="364.7" y="499.5" width="12.3" height="4.4" fill="#30dfbf"/>
<rect x="358.1" y="503.6" width="12.7" height="4.4" fill="#20bab6"/>
<rect x="370.4" y="503.6" width="8.3" height="4.4" fill="#24cec9"/>
<rect x="358.4" y="507.7" width="7.2" height="4.4" fill="#16a8b9"/>
<rect x="365.1" y="507.7" width="11.2" height="4.4" fill="#1cd5eb"/>
<rect x="358.0" y="511.8" width="7.6" height="4.4" fill="#0ea6d0"/>
<rect x="365.1" y="511.8" width="12.9" height="4.4" fill="#12d3ff"/>
<rect x="360.7" y="516.1" width="9.0" height="4.4" fill="#098dc5"/>
<rect x="369.2" y="516.1" width="9.8" height="4.4" fill="#0bb5fc"/>
<rect x="360.0" y="520.3" width="8.5" height="4.4" fill="#0475b6"/>
<rect x="368.0" y="520.3" width="11.6" height="4.4" fill="#05a0f9"/>
<rect x="362.0" y="524.6" width="9.3" height="4.4" fill="#0079d7"/>
<rect x="370.8" y="524.6" width="9.2" height="4.4" fill="#0094ff"/>
<rect x="362.0" y="529.0" width="12.4" height="4.4" fill="#0791c9"/>
<rect x="373.9" y="529.0" width="8.5" height="4.4" fill="#0ac6ff"/>
<rect x="365.0" y="533.5" width="10.3" height="4.4" fill="#0da2c3"/>
<rect x="374.8" y="533.5" width="7.2" height="4.4" fill="#10c6ed"/>
<rect x="366.9" y="537.1" width="7.2" height="4.4" fill="#0989b6"/>
<rect x="373.6" y="537.1" width="9.8" height="4.4" fill="#0cbbf7"/>
<rect x="366.6" y="540.6" width="6.7" height="4.4" fill="#0686c4"/>
<rect x="372.7" y="540.6" width="10.1" height="4.4" fill="#08adfe"/>
<rect x="365.9" y="544.2" width="9.1" height="4.4" fill="#0375c1"/>
<rect x="374.5" y="544.2" width="10.1" height="4.4" fill="#0490ee"/>
<rect x="368.0" y="547.8" width="8.3" height="4.4" fill="#0067c1"/>
<rect x="375.8" y="547.8" width="7.2" height="4.4" fill="#0089ff"/>
<rect x="367.1" y="551.8" width="9.0" height="4.4" fill="#0667ac"/>
<rect x="375.6" y="551.8" width="8.9" height="4.4" fill="#0892f3"/>
<rect x="368.0" y="555.8" width="8.2" height="4.4" fill="#0e8cd2"/>
<rect x="375.7" y="555.8" width="10.3" height="4.4" fill="#11adff"/>
<rect x="367.6" y="559.8" width="9.0" height="4.4" fill="#1e99a0"/>
<rect x="376.0" y="559.8" width="12.2" height="4.4" fill="#27c3cc"/>
<rect x="368.0" y="563.8" width="10.7" height="4.4" fill="#2faf80"/>
<rect x="378.2" y="563.8" width="13.8" height="4.4" fill="#3fedae"/>
<rect x="368.4" y="568.3" width="14.4" height="4.4" fill="#22b0b0"/>
<rect x="382.2" y="568.3" width="9.3" height="4.4" fill="#28cece"/>
<rect x="368.0" y="572.8" width="11.9" height="4.4" fill="#0d8abc"/>
<rect x="379.4" y="572.8" width="10.6" height="4.4" fill="#11beff"/>
<rect x="366.6" y="577.3" width="13.2" height="4.4" fill="#14a7bb"/>
<rect x="379.3" y="577.3" width="8.9" height="4.4" fill="#17c2d9"/>
<rect x="368.0" y="581.8" width="13.0" height="4.4" fill="#1ed1c2"/>
<rect x="380.5" y="581.8" width="8.5" height="4.4" fill="#20ddce"/>
<rect x="368.3" y="585.3" width="10.4" height="4.4" fill="#149894"/>
<rect x="378.1" y="585.3" width="11.9" height="4.4" fill="#18bbb7"/>
<rect x="368.9" y="588.8" width="10.7" height="4.4" fill="#13a0a6"/>
<rect x="379.1" y="588.8" width="10.0" height="4.4" fill="#1be7f0"/>
<rect x="369.0" y="592.3" width="11.0" height="4.4" fill="#0c808d"/>
<rect x="379.5" y="592.3" width="8.1" height="4.4" fill="#12bbcf"/>
<rect x="368.0" y="595.8" width="8.0" height="4.4" fill="#0ea6c2"/>
<rect x="375.5" y="595.8" width="10.5" height="4.4" fill="#11cff1"/>
<rect x="366.6" y="598.8" width="10.6" height="4.4" fill="#127d8f"/>
<rect x="376.7" y="598.8" width="6.9" height="4.4" fill="#158ea2"/>
<rect x="368.0" y="601.8" width="10.1" height="4.4" fill="#186d79"/>
<rect x="377.6" y="601.8" width="8.4" height="4.4" fill="#239cad"/>
<rect x="367.2" y="605.3" width="10.4" height="4.4" fill="#3f9165"/>
<rect x="377.2" y="605.3" width="11.9" height="4.4" fill="#52bc83"/>
<rect x="368.0" y="608.8" width="11.8" height="4.4" fill="#74ca57"/>
<rect x="379.3" y="608.8" width="16.7" height="4.4" fill="#7fdf5f"/>
<rect x="367.5" y="612.3" width="10.8" height="4.4" fill="#539b42"/>
<rect x="377.9" y="612.3" width="15.0" height="4.4" fill="#6dcb56"/>
<rect x="368.0" y="615.8" width="14.3" height="4.4" fill="#52a444"/>
<rect x="381.8" y="615.8" width="12.2" height="4.4" fill="#67ce56"/>
<rect x="368.1" y="619.3" width="15.0" height="4.4" fill="#489648"/>
<rect x="382.6" y="619.3" width="10.7" height="4.4" fill="#57b357"/>
<rect x="368.0" y="622.8" width="11.6" height="4.4" fill="#5ec96b"/>
<rect x="379.1" y="622.8" width="16.9" height="4.4" fill="#79ff8a"/>
<rect x="368.6" y="626.8" width="15.7" height="4.4" fill="#46a464"/>
<rect x="383.8" y="626.8" width="11.0" height="4.4" fill="#55c678"/>
<rect x="368.0" y="630.8" width="13.5" height="4.4" fill="#4bc287"/>
<rect x="381.0" y="630.8" width="13.0" height="4.4" fill="#52d694"/>
<rect x="367.9" y="634.6" width="14.7" height="4.4" fill="#4fb26a"/>
<rect x="382.2" y="634.6" width="10.2" height="4.4" fill="#5acc79"/>
<rect x="368.0" y="638.5" width="13.4" height="4.4" fill="#54a854"/>
<rect x="380.9" y="638.5" width="14.6" height="4.4" fill="#6fdf6f"/>
<rect x="367.8" y="642.1" width="9.8" height="4.4" fill="#64b64b"/>
<rect x="377.1" y="642.1" width="16.6" height="4.4" fill="#7de45e"/>
<rect x="368.0" y="645.8" width="16.7" height="4.4" fill="#7cce45"/>
<rect x="384.2" y="645.8" width="10.8" height="4.4" fill="#a1ff5a"/>
<rect x="369.2" y="649.3" width="10.6" height="4.4" fill="#418c4b"/>
<rect x="379.3" y="649.3" width="12.3" height="4.4" fill="#55b863"/>
<rect x="368.0" y="652.8" width="8.9" height="4.4" fill="#36af87"/>
<rect x="376.4" y="652.8" width="11.6" height="4.4" fill="#48e9b3"/>
<rect x="368.3" y="656.5" width="10.1" height="4.4" fill="#2b8b6a"/>
<rect x="377.9" y="656.5" width="13.0" height="4.4" fill="#3bc294"/>
<rect x="366.6" y="660.1" width="10.5" height="4.4" fill="#2c8f6d"/>
<rect x="376.5" y="660.1" width="12.4" height="4.4" fill="#34a881"/>
<rect x="368.0" y="663.8" width="14.0" height="4.4" fill="#3cc295"/>
<rect x="381.5" y="663.8" width="10.5" height="4.4" fill="#45e2ae"/>
<rect x="367.0" y="667.3" width="12.2" height="4.4" fill="#208c9f"/>
<rect x="378.7" y="667.3" width="8.3" height="4.4" fill="#27adc5"/>
<rect x="368.0" y="670.8" width="5.6" height="4.4" fill="#0f85de"/>
<rect x="373.1" y="670.8" width="6.9" height="4.4" fill="#1197fb"/>
<rect x="368.1" y="674.4" width="6.4" height="4.4" fill="#1483a8"/>
<rect x="374.1" y="674.4" width="8.9" height="4.4" fill="#1aafdf"/>
<rect x="368.9" y="677.9" width="9.6" height="4.4" fill="#25d0d0"/>
<rect x="378.0" y="677.9" width="10.7" height="4.4" fill="#2cf6f6"/>
<rect x="368.0" y="681.5" width="14.0" height="4.4" fill="#2bd7ac"/>
<rect x="381.5" y="681.5" width="11.5" height="4.4" fill="#30f2c1"/>
<rect x="368.4" y="685.5" width="14.4" height="4.4" fill="#4b9a4b"/>
<rect x="382.3" y="685.5" width="11.6" height="4.4" fill="#66d366"/>
<rect x="368.0" y="689.5" width="10.5" height="4.4" fill="#a3cf1e"/>
<rect x="378.0" y="689.5" width="18.0" height="4.4" fill="#b0e020"/>
<rect x="367.5" y="694.5" width="14.0" height="4.4" fill="#5ebc57"/>
<rect x="381.0" y="694.5" width="13.6" height="4.4" fill="#74e66b"/>
<rect x="368.0" y="699.4" width="13.0" height="4.4" fill="#27b48e"/>
<rect x="380.5" y="699.4" width="11.5" height="4.4" fill="#34f4c0"/>
<rect x="366.7" y="702.9" width="15.3" height="4.4" fill="#1a8b87"/>
<rect x="381.5" y="702.9" width="10.5" height="4.4" fill="#22b4af"/>
<rect x="366.1" y="706.3" width="13.5" height="4.4" fill="#15829f"/>
<rect x="379.0" y="706.3" width="10.1" height="4.4" fill="#1ebfe9"/>
<rect x="366.0" y="709.8" width="7.6" height="4.4" fill="#0e7ec3"/>
<rect x="373.1" y="709.8" width="11.9" height="4.4" fill="#1195e7"/>
<rect x="367.7" y="713.5" width="11.2" height="4.4" fill="#0e6b8a"/>
<rect x="378.3" y="713.5" width="8.2" height="4.4" fill="#15a4d2"/>
<rect x="365.9" y="717.1" width="6.7" height="4.4" fill="#127d88"/>
<rect x="372.2" y="717.1" width="11.0" height="4.4" fill="#18a8b6"/>
<rect x="367.0" y="720.8" width="7.7" height="4.4" fill="#1ec5b6"/>
<rect x="374.2" y="720.8" width="11.8" height="4.4" fill="#23e4d3"/>
<rect x="366.1" y="725.3" width="11.8" height="4.4" fill="#0d8cb3"/>
<rect x="377.4" y="725.3" width="8.2" height="4.4" fill="#12c6fc"/>
<rect x="368.0" y="729.8" width="8.2" height="4.4" fill="#0080e2"/>
<rect x="375.7" y="729.8" width="6.3" height="4.4" fill="#0093ff"/>
<rect x="368.2" y="733.3" width="8.3" height="4.4" fill="#0498e2"/>
<rect x="376.0" y="733.3" width="5.4" height="4.4" fill="#04b8ff"/>
<rect x="369.4" y="736.8" width="7.1" height="4.4" fill="#0695cf"/>
<rect x="376.0" y="736.8" width="9.0" height="4.4" fill="#09c8ff"/>
<rect x="367.6" y="740.3" width="8.5" height="4.4" fill="#0997bf"/>
<rect x="375.6" y="740.3" width="8.6" height="4.4" fill="#0cc9ff"/>
<rect x="368.0" y="743.8" width="8.7" height="4.4" fill="#0fbfdc"/>
<rect x="376.2" y="743.8" width="9.8" height="4.4" fill="#10cded"/>
<rect x="369.0" y="747.8" width="8.8" height="4.4" fill="#0f9db3"/>
<rect x="377.3" y="747.8" width="8.9" height="4.4" fill="#11afc6"/>
<rect x="367.8" y="751.8" width="11.0" height="4.4" fill="#118c9c"/>
<rect x="378.3" y="751.8" width="9.5" height="4.4" fill="#16bed3"/>
<rect x="369.5" y="755.8" width="9.2" height="4.4" fill="#138a97"/>
<rect x="378.2" y="755.8" width="8.5" height="4.4" fill="#1ccde0"/>
<rect x="370.0" y="759.8" width="7.9" height="4.4" fill="#189ca8"/>
<rect x="377.4" y="759.8" width="10.6" height="4.4" fill="#21d9e9"/>
<rect x="371.2" y="763.8" width="5.8" height="4.4" fill="#1f9b95"/>
<rect x="376.5" y="763.8" width="9.1" height="4.4" fill="#2ee3d9"/>
<rect x="370.0" y="767.8" width="7.2" height="4.4" fill="#29a287"/>
<rect x="376.7" y="767.8" width="11.3" height="4.4" fill="#35d4b1"/>
<rect x="370.5" y="772.0" width="10.7" height="4.4" fill="#25a289"/>
<rect x="380.7" y="772.0" width="11.8" height="4.4" fill="#2dc3a6"/>
<rect x="372.0" y="776.3" width="8.3" height="4.4" fill="#23a58e"/>
<rect x="379.8" y="776.3" width="12.2" height="4.4" fill="#34f4d1"/>
<rect x="372.2" y="779.8" width="9.6" height="4.4" fill="#23aec2"/>
<rect x="381.3" y="779.8" width="7.0" height="4.4" fill="#29cde5"/>
<rect x="374.3" y="783.3" width="7.7" height="4.4" fill="#188bd1"/>
<rect x="381.6" y="783.3" width="7.9" height="4.4" fill="#1ca0f1"/>
<rect x="374.0" y="786.8" width="11.0" height="4.4" fill="#1070f0"/>
<rect x="377.1" y="791.3" width="7.1" height="4.4" fill="#0764c8"/>
<rect x="383.8" y="791.3" width="5.6" height="4.4" fill="#076bd4"/>
<rect x="378.0" y="795.8" width="8.0" height="4.4" fill="#006dcd"/>
<rect x="385.5" y="795.8" width="6.5" height="4.4" fill="#007eec"/>
<rect x="380.2" y="800.3" width="5.3" height="4.4" fill="#0474c7"/>
<rect x="385.1" y="800.3" width="6.9" height="4.4" fill="#048aed"/>
<rect x="378.3" y="804.8" width="7.7" height="4.4" fill="#0677bd"/>
<rect x="385.4" y="804.8" width="7.4" height="4.4" fill="#08a1ff"/>
<rect x="379.4" y="809.3" width="10.6" height="4.4" fill="#0ca4ef"/>
<rect x="389.4" y="809.3" width="7.6" height="4.4" fill="#0eb7ff"/>
<rect x="381.0" y="813.8" width="9.0" height="4.4" fill="#0c82b2"/>
<rect x="389.5" y="813.8" width="7.5" height="4.4" fill="#10b0f0"/>
<rect x="382.8" y="817.3" width="7.3" height="4.4" fill="#0b86d7"/>
<rect x="389.5" y="817.3" width="7.0" height="4.4" fill="#0c93eb"/>
<rect x="381.9" y="820.8" width="7.3" height="4.4" fill="#0660b9"/>
<rect x="388.6" y="820.8" width="10.7" height="4.4" fill="#0776e3"/>
<rect x="384.6" y="824.3" width="6.3" height="4.4" fill="#034cb8"/>
<rect x="390.4" y="824.3" width="9.3" height="4.4" fill="#0469fd"/>
<rect x="384.0" y="827.8" width="8.2" height="4.4" fill="#003dc2"/>
<rect x="391.7" y="827.8" width="6.3" height="4.4" fill="#0057ff"/>
<rect x="385.2" y="832.8" width="4.9" height="4.4" fill="#003aa6"/>
<rect x="389.5" y="832.8" width="7.5" height="4.4" fill="#004fe6"/>
<rect x="386.0" y="837.8" width="5.4" height="4.4" fill="#004cca"/>
<rect x="390.9" y="837.8" width="9.1" height="4.4" fill="#0060ff"/>
<rect x="385.4" y="842.3" width="7.6" height="4.4" fill="#0454bc"/>
<rect x="392.5" y="842.3" width="10.3" height="4.4" fill="#045bcb"/>
<rect x="388.3" y="846.9" width="7.3" height="4.4" fill="#0a7ae8"/>
<rect x="395.1" y="846.9" width="6.1" height="4.4" fill="#0b85fe"/>
<rect x="388.0" y="851.4" width="9.0" height="4.4" fill="#0d72be"/>
<rect x="396.5" y="851.4" width="6.5" height="4.4" fill="#119dff"/>
<rect x="388.8" y="855.4" width="6.8" height="4.4" fill="#0d6dbb"/>
<rect x="395.2" y="855.4" width="6.5" height="4.4" fill="#1296ff"/>
<rect x="387.2" y="859.5" width="6.9" height="4.4" fill="#0c68b6"/>
<rect x="393.6" y="859.5" width="5.8" height="4.4" fill="#108bf4"/>
<rect x="389.2" y="863.5" width="5.5" height="4.4" fill="#0b5aa5"/>
<rect x="394.2" y="863.5" width="6.9" height="4.4" fill="#1080e9"/>
<rect x="388.0" y="867.5" width="7.6" height="4.4" fill="#0c61b6"/>
<rect x="395.1" y="867.5" width="4.9" height="4.4" fill="#128eff"/>
<rect x="386.4" y="871.1" width="6.6" height="4.4" fill="#0956b8"/>
<rect x="392.5" y="871.1" width="5.4" height="4.4" fill="#0d76fe"/>
<rect x="386.0" y="874.6" width="9.6" height="4.4" fill="#0862fd"/>
<rect x="382.3" y="878.2" width="6.4" height="4.4" fill="#0449e5"/>
<rect x="388.1" y="878.2" width="6.9" height="4.4" fill="#0457ff"/>
<rect x="382.0" y="881.8" width="6.3" height="4.4" fill="#0035d2"/>
<rect x="387.8" y="881.8" width="8.2" height="4.4" fill="#0047ff"/>
<rect x="380.4" y="885.3" width="6.0" height="4.4" fill="#033cbe"/>
<rect x="385.8" y="885.3" width="8.1" height="4.4" fill="#0453ff"/>
<rect x="381.3" y="888.8" width="6.4" height="4.4" fill="#0857eb"/>
<rect x="387.1" y="888.8" width="5.4" height="4.4" fill="#0a69ff"/>
<rect x="380.5" y="892.3" width="5.6" height="4.4" fill="#084195"/>
<rect x="385.6" y="892.3" width="9.4" height="4.4" fill="#0a55c4"/>
<rect x="381.0" y="895.8" width="6.5" height="4.4" fill="#0d5bb6"/>
<rect x="387.0" y="895.8" width="6.0" height="4.4" fill="#127cf8"/>
<rect x="381.2" y="900.1" width="10.2" height="4.4" fill="#094bbe"/>
<rect x="380.2" y="904.5" width="9.7" height="4.4" fill="#064afb"/>
<rect x="378.0" y="908.8" width="6.5" height="4.4" fill="#0029cf"/>
<rect x="384.0" y="908.8" width="6.0" height="4.4" fill="#0034ff"/>
<rect x="377.9" y="912.8" width="10.7" height="4.4" fill="#0546d5"/>
<rect x="376.6" y="916.8" width="5.4" height="4.4" fill="#0966e4"/>
<rect x="381.5" y="916.8" width="7.3" height="4.4" fill="#0b79ff"/>
<rect x="378.0" y="920.8" width="8.3" height="4.4" fill="#0e82e5"/>
<rect x="385.8" y="920.8" width="6.2" height="4.4" fill="#1091ff"/>
<rect x="376.9" y="924.3" width="6.7" height="4.4" fill="#077dcd"/>
<rect x="383.1" y="924.3" width="10.9" height="4.4" fill="#0aa7ff"/>
<rect x="377.0" y="927.8" width="7.7" height="4.4" fill="#0084eb"/>
<rect x="384.2" y="927.8" width="10.8" height="4.4" fill="#009eff"/>
<rect x="375.4" y="931.5" width="9.5" height="4.4" fill="#0375c4"/>
<rect x="384.4" y="931.5" width="8.1" height="4.4" fill="#048dec"/>
<rect x="376.4" y="935.3" width="11.8" height="4.4" fill="#0680c2"/>
<rect x="387.7" y="935.3" width="9.1" height="4.4" fill="#08b1ff"/>
<rect x="373.1" y="939.0" width="12.2" height="4.4" fill="#0979b8"/>
<rect x="384.9" y="939.0" width="10.0" height="4.4" fill="#0a8ed7"/>
<rect x="373.0" y="942.8" width="12.5" height="4.4" fill="#0d8cca"/>
<rect x="385.0" y="942.8" width="9.0" height="4.4" fill="#11b7ff"/>
<rect x="373.5" y="947.3" width="10.5" height="4.4" fill="#0face1"/>
<rect x="383.5" y="947.3" width="11.8" height="4.4" fill="#11c0fb"/>
<rect x="372.9" y="951.9" width="11.7" height="4.4" fill="#0d99c0"/>
<rect x="384.1" y="951.9" width="10.8" height="4.4" fill="#11c9fc"/>
<rect x="374.0" y="956.4" width="9.8" height="4.4" fill="#0ea3bf"/>
<rect x="383.3" y="956.4" width="11.7" height="4.4" fill="#12d6fa"/>
<rect x="374.6" y="960.9" width="8.0" height="4.4" fill="#16a2ab"/>
<rect x="382.1" y="960.9" width="13.1" height="4.4" fill="#19bcc6"/>
<rect x="378.1" y="965.3" width="9.5" height="4.4" fill="#1a928b"/>
<rect x="387.2" y="965.3" width="12.2" height="4.4" fill="#21bdb4"/>
<rect x="378.0" y="969.8" width="14.0" height="4.4" fill="#25ac93"/>
<rect x="391.5" y="969.8" width="10.5" height="4.4" fill="#36fad6"/>
<rect x="380.8" y="974.1" width="13.3" height="4.4" fill="#29a98c"/>
<rect x="393.6" y="974.1" width="13.9" height="4.4" fill="#39eac2"/>
<rect x="382.1" y="978.5" width="13.2" height="4.4" fill="#31b38f"/>
<rect x="394.8" y="978.5" width="13.0" height="4.4" fill="#35c29b"/>
<rect x="385.0" y="982.8" width="14.6" height="4.4" fill="#2e9774"/>
<rect x="399.1" y="982.8" width="12.9" height="4.4" fill="#40d1a1"/>
<rect x="388.0" y="986.8" width="13.5" height="4.4" fill="#409a5d"/>
<rect x="401.0" y="986.8" width="15.6" height="4.4" fill="#53c678"/>
<rect x="388.5" y="990.8" width="14.8" height="4.4" fill="#5db554"/>
<rect x="402.8" y="990.8" width="14.7" height="4.4" fill="#6cd362"/>
<rect x="391.0" y="994.8" width="14.3" height="4.4" fill="#82d848"/>
<rect x="404.8" y="994.8" width="15.2" height="4.4" fill="#92f351"/>
<rect x="392.3" y="998.5" width="16.7" height="4.4" fill="#5da43f"/>
<rect x="408.5" y="998.5" width="10.9" height="4.4" fill="#84e95a"/>
<rect x="392.2" y="1002.1" width="15.5" height="4.4" fill="#4d8f3f"/>
<rect x="407.2" y="1002.1" width="12.0" height="4.4" fill="#66be54"/>
<rect x="394.0" y="1005.8" width="11.5" height="4.4" fill="#6ad36a"/>
<rect x="405.0" y="1005.8" width="17.0" height="4.4" fill="#7bf77b"/>
<rect x="393.2" y="1008.8" width="10.4" height="4.4" fill="#3aa881"/>
<rect x="403.1" y="1008.8" width="16.8" height="4.4" fill="#45c799"/>
<rect x="395.0" y="1011.8" width="10.1" height="4.4" fill="#1994a0"/>
<rect x="404.6" y="1011.8" width="17.4" height="4.4" fill="#23cfe0"/>
<rect x="393.9" y="1015.1" width="13.1" height="4.4" fill="#0d7bac"/>
<rect x="406.5" y="1015.1" width="13.5" height="4.4" fill="#11a6e8"/>
<rect x="394.0" y="1018.4" width="8.3" height="4.4" fill="#0066c0"/>
<rect x="401.8" y="1018.4" width="13.2" height="4.4" fill="#007fee"/>
<rect x="394.6" y="1021.6" width="12.3" height="4.4" fill="#0c80aa"/>
<rect x="406.4" y="1021.6" width="9.4" height="4.4" fill="#10abe3"/>
<rect x="393.0" y="1024.8" width="12.2" height="4.4" fill="#1aaaaa"/>
<rect x="404.7" y="1024.8" width="15.3" height="4.4" fill="#22dddd"/>
<rect x="392.0" y="1029.8" width="13.8" height="4.4" fill="#7aa229"/>
<rect x="405.3" y="1029.8" width="18.7" height="4.4" fill="#9dd134"/>
<rect x="390.0" y="1034.8" width="13.4" height="4.4" fill="#9f930c"/>
<rect x="402.9" y="1034.8" width="22.1" height="4.4" fill="#ccbd10"/>
<rect x="390.2" y="1038.5" width="15.1" height="4.4" fill="#8b8e0f"/>
<rect x="404.9" y="1038.5" width="16.4" height="4.4" fill="#c4c915"/>
<rect x="387.7" y="1042.1" width="14.3" height="4.4" fill="#a7bf18"/>
<rect x="401.5" y="1042.1" width="21.6" height="4.4" fill="#cbe71d"/>
<rect x="388.0" y="1045.8" width="17.7" height="4.4" fill="#a0cb1d"/>
<rect x="405.2" y="1045.8" width="14.8" height="4.4" fill="#c4fa24"/>
<rect x="388.0" y="1049.3" width="14.5" height="4.4" fill="#9fbb1f"/>
<rect x="402.0" y="1049.3" width="16.1" height="4.4" fill="#bdde25"/>
<rect x="386.0" y="1052.8" width="14.4" height="4.4" fill="#88901e"/>
<rect x="399.9" y="1052.8" width="18.1" height="4.4" fill="#a0a924"/>
<rect x="385.5" y="1056.1" width="13.4" height="4.4" fill="#7c8b18"/>
<rect x="398.4" y="1056.1" width="20.2" height="4.4" fill="#96a81d"/>
<rect x="385.0" y="1059.5" width="15.6" height="4.4" fill="#aac61c"/>
<rect x="400.1" y="1059.5" width="14.9" height="4.4" fill="#c4e421"/>
<rect x="385.7" y="1062.6" width="16.7" height="4.4" fill="#9c9c13"/>
<rect x="401.9" y="1062.6" width="12.8" height="4.4" fill="#b1b115"/>
<rect x="384.0" y="1065.8" width="20.6" height="4.4" fill="#b99c0e"/>
<rect x="404.1" y="1065.8" width="13.9" height="4.4" fill="#cdae10"/>
<rect x="382.6" y="1069.3" width="13.7" height="4.4" fill="#ad790d"/>
<rect x="395.8" y="1069.3" width="23.7" height="4.4" fill="#f5ac12"/>
<rect x="384.0" y="1072.8" width="21.2" height="4.4" fill="#d1780f"/>
<rect x="404.7" y="1072.8" width="18.3" height="4.4" fill="#f78d12"/>
<rect x="385.4" y="1077.6" width="18.2" height="4.4" fill="#bb670d"/>
<rect x="403.1" y="1077.6" width="26.4" height="4.4" fill="#f28611"/>
<rect x="385.0" y="1082.4" width="21.5" height="4.4" fill="#c4690d"/>
<rect x="406.0" y="1082.4" width="26.0" height="4.4" fill="#f88411"/>
<rect x="389.7" y="1087.1" width="25.3" height="4.4" fill="#c89616"/>
<rect x="414.6" y="1087.1" width="19.9" height="4.4" fill="#fdbe1b"/>
<rect x="393.0" y="1091.8" width="24.3" height="4.4" fill="#baba1d"/>
<rect x="416.8" y="1091.8" width="18.2" height="4.4" fill="#dbdb22"/>
<rect x="400.0" y="1096.8" width="20.9" height="4.4" fill="#bd6c0d"/>
<rect x="420.4" y="1096.8" width="24.6" height="4.4" fill="#ea8611"/>
<rect x="405.0" y="1101.5" width="27.4" height="4.4" fill="#cd0f00"/>
<rect x="431.9" y="1101.5" width="25.1" height="4.4" fill="#f11100"/>
<rect x="407.3" y="1105.1" width="19.9" height="4.4" fill="#900c06"/>
<rect x="426.7" y="1105.1" width="27.6" height="4.4" fill="#b10f07"/>
<rect x="410.0" y="1108.8" width="17.6" height="4.4" fill="#830c0c"/>
<rect x="427.1" y="1108.8" width="27.9" height="4.4" fill="#b81111"/>
<rect x="412.0" y="1113.8" width="23.9" height="4.4" fill="#7f0e0e"/>
<rect x="435.4" y="1113.8" width="16.6" height="4.4" fill="#8e1010"/>
<rect x="412.0" y="1118.6" width="23.7" height="4.4" fill="#d52b00"/>
<rect x="435.2" y="1118.6" width="16.8" height="4.4" fill="#ff3300"/>
<rect x="409.0" y="1123.2" width="14.8" height="4.4" fill="#c42000"/>
<rect x="423.3" y="1123.2" width="26.4" height="4.4" fill="#ff2900"/>
<rect x="405.0" y="1127.8" width="21.7" height="4.4" fill="#bf1800"/>
<rect x="426.2" y="1127.8" width="23.8" height="4.4" fill="#ff2200"/>
<rect x="402.9" y="1131.8" width="23.7" height="4.4" fill="#9f1106"/>
<rect x="426.1" y="1131.8" width="22.9" height="4.4" fill="#c01507"/>
<rect x="398.0" y="1135.8" width="23.5" height="4.4" fill="#8f0c0c"/>
<rect x="421.0" y="1135.8" width="24.0" height="4.4" fill="#d21212"/>
<rect x="396.6" y="1139.6" width="26.7" height="4.4" fill="#af0e0e"/>
<rect x="422.8" y="1139.6" width="20.0" height="4.4" fill="#d01010"/>
<rect x="395.0" y="1143.4" width="17.7" height="4.4" fill="#a40d0d"/>
<rect x="412.2" y="1143.4" width="24.8" height="4.4" fill="#cd1010"/>
<rect x="393.0" y="1148.8" width="21.8" height="4.4" fill="#931d0f"/>
<rect x="414.3" y="1148.8" width="17.7" height="4.4" fill="#b22412"/>
<rect x="390.7" y="1152.8" width="20.8" height="4.4" fill="#a73d0e"/>
<rect x="410.9" y="1152.8" width="20.2" height="4.4" fill="#cb4a10"/>
<rect x="389.0" y="1156.8" width="16.8" height="4.4" fill="#b1520c"/>
<rect x="405.3" y="1156.8" width="26.7" height="4.4" fill="#ff7c12"/>
<rect x="389.0" y="1160.8" width="28.4" height="4.4" fill="#7f0e07"/>
<rect x="416.9" y="1160.8" width="19.1" height="4.4" fill="#9a1109"/>
<rect x="389.0" y="1164.4" width="23.4" height="4.4" fill="#840000"/>
<rect x="411.9" y="1164.4" width="28.1" height="4.4" fill="#930000"/>
<rect x="388.1" y="1168.1" width="19.6" height="4.4" fill="#8b0600"/>
<rect x="407.2" y="1168.1" width="33.5" height="4.4" fill="#980700"/>
<rect x="390.0" y="1171.8" width="27.0" height="4.4" fill="#b50e00"/>
<rect x="416.5" y="1171.8" width="23.5" height="4.4" fill="#cf1000"/>
<rect x="394.0" y="1175.8" width="17.9" height="3.0" fill="#640d0d"/>
<rect x="411.4" y="1175.8" width="20.6" height="3.0" fill="#8c1111"/>
<rect x="397.0" y="1186.8" width="19.6" height="3.0" fill="#b2b20d"/>
<rect x="416.1" y="1186.8" width="15.9" height="3.0" fill="#e0e010"/>
<rect x="400.0" y="1189.8" width="17.1" height="4.4" fill="#91760d"/>
<rect x="416.6" y="1189.8" width="21.4" height="4.4" fill="#bb9911"/>
<rect x="405.0" y="1194.8" width="24.0" height="4.4" fill="#bf720d"/>
<rect x="428.5" y="1194.8" width="16.5" height="4.4" fill="#f09010"/>
<rect x="407.7" y="1198.7" width="20.1" height="4.4" fill="#b4660c"/>
<rect x="427.3" y="1198.7" width="19.0" height="4.4" fill="#ee8710"/>
<rect x="410.0" y="1202.6" width="22.2" height="4.4" fill="#cb6c0e"/>
<rect x="431.7" y="1202.6" width="20.3" height="4.4" fill="#ff8c12"/>
<rect x="412.9" y="1206.2" width="16.9" height="4.4" fill="#c2820d"/>
<rect x="429.4" y="1206.2" width="24.8" height="4.4" fill="#d9910e"/>
<rect x="418.0" y="1209.8" width="20.2" height="4.4" fill="#cba30e"/>
<rect x="437.7" y="1209.8" width="22.3" height="4.4" fill="#fdcb11"/>
<rect x="420.0" y="1214.8" width="16.0" height="4.4" fill="#b9ac0d"/>
<rect x="435.5" y="1214.8" width="25.5" height="4.4" fill="#e4d410"/>
<rect x="421.0" y="1219.8" width="16.8" height="4.4" fill="#d08300"/>
<rect x="437.3" y="1219.8" width="22.7" height="4.4" fill="#ffa600"/>
<rect x="421.0" y="1225.5" width="14.2" height="3.0" fill="#d3b70e"/>
<rect x="434.7" y="1225.5" width="20.3" height="3.0" fill="#ffe712"/>
</g>
<g class="fT2">
<rect x="648.3" y="321.6" width="6.7" height="3.0" fill="#0000c1"/>
<rect x="654.5" y="321.6" width="9.9" height="3.0" fill="#0000e1"/>
<rect x="653.5" y="323.3" width="8.5" height="4.4" fill="#0009ef"/>
<rect x="656.0" y="326.4" width="8.0" height="4.4" fill="#0010e0"/>
<rect x="660.0" y="333.6" width="9.0" height="4.4" fill="#0000a5"/>
<rect x="668.5" y="333.6" width="7.5" height="4.4" fill="#0000c6"/>
<rect x="668.0" y="337.8" width="10.0" height="4.4" fill="#1010a0"/>
<rect x="672.0" y="342.5" width="9.0" height="4.4" fill="#0020e0"/>
<rect x="670.0" y="347.8" width="6.6" height="4.4" fill="#0e29b1"/>
<rect x="676.1" y="347.8" width="5.9" height="4.4" fill="#102fcd"/>
<rect x="668.0" y="353.3" width="7.3" height="4.4" fill="#000ecf"/>
<rect x="674.8" y="353.3" width="7.2" height="4.4" fill="#0011fd"/>
<rect x="669.0" y="356.9" width="7.2" height="4.4" fill="#000ca4"/>
<rect x="675.7" y="356.9" width="5.0" height="4.4" fill="#000dbf"/>
<rect x="668.0" y="360.4" width="9.0" height="4.4" fill="#0010d0"/>
<rect x="672.0" y="364.8" width="5.4" height="4.4" fill="#0c2484"/>
<rect x="676.9" y="364.8" width="7.1" height="4.4" fill="#1134c0"/>
<rect x="672.0" y="369.4" width="6.8" height="3.0" fill="#0053ce"/>
<rect x="678.3" y="369.4" width="5.7" height="3.0" fill="#0064fa"/>
<rect x="676.0" y="383.2" width="7.2" height="3.0" fill="#0c567b"/>
<rect x="682.7" y="383.2" width="7.3" height="3.0" fill="#1176a9"/>
<rect x="672.0" y="385.5" width="8.2" height="3.0" fill="#0e8acf"/>
<rect x="679.7" y="385.5" width="12.3" height="3.0" fill="#11abff"/>
<rect x="672.0" y="396.2" width="8.8" height="3.0" fill="#0c4ba2"/>
<rect x="680.3" y="396.2" width="7.7" height="3.0" fill="#105fcf"/>
<rect x="672.0" y="399.8" width="9.2" height="4.4" fill="#0062e0"/>
<rect x="680.7" y="399.8" width="11.3" height="4.4" fill="#0076ff"/>
<rect x="673.0" y="404.8" width="9.6" height="4.4" fill="#0d5caa"/>
<rect x="682.1" y="404.8" width="7.9" height="4.4" fill="#1174d7"/>
<rect x="673.0" y="409.6" width="9.2" height="3.0" fill="#0061c1"/>
<rect x="681.7" y="409.6" width="6.3" height="3.0" fill="#0081ff"/>
<rect x="672.0" y="423.2" width="8.5" height="3.0" fill="#007ddd"/>
<rect x="680.0" y="423.2" width="8.0" height="3.0" fill="#0096ff"/>
<rect x="674.0" y="425.8" width="7.4" height="4.4" fill="#0d5c9e"/>
<rect x="680.9" y="425.8" width="7.1" height="4.4" fill="#1178ce"/>
<rect x="680.0" y="429.8" width="7.4" height="4.4" fill="#2cbda0"/>
<rect x="686.9" y="429.8" width="5.1" height="4.4" fill="#33debc"/>
<rect x="672.0" y="433.8" width="8.0" height="4.4" fill="#2db4a5"/>
<rect x="679.5" y="433.8" width="8.5" height="4.4" fill="#32c8b7"/>
<rect x="670.0" y="439.3" width="9.6" height="4.4" fill="#0f84ce"/>
<rect x="679.1" y="439.3" width="8.9" height="4.4" fill="#119bf1"/>
<rect x="668.0" y="444.5" width="9.5" height="4.4" fill="#0e8fe3"/>
<rect x="677.0" y="444.5" width="11.0" height="4.4" fill="#11aaff"/>
<rect x="672.0" y="449.8" width="9.8" height="4.4" fill="#0e8adc"/>
<rect x="681.3" y="449.8" width="6.7" height="4.4" fill="#11a9ff"/>
<rect x="673.4" y="453.3" width="9.5" height="4.4" fill="#0d85cd"/>
<rect x="682.4" y="453.3" width="6.1" height="4.4" fill="#11a4fd"/>
<rect x="676.0" y="456.8" width="7.5" height="4.4" fill="#0f96e1"/>
<rect x="683.0" y="456.8" width="5.0" height="4.4" fill="#10a1f1"/>
<rect x="672.0" y="461.5" width="4.9" height="4.4" fill="#0f75b0"/>
<rect x="676.4" y="461.5" width="7.6" height="4.4" fill="#128dd4"/>
<rect x="676.0" y="465.8" width="6.7" height="4.4" fill="#0c647d"/>
<rect x="682.2" y="465.8" width="7.8" height="4.4" fill="#118aac"/>
<rect x="676.0" y="469.5" width="7.5" height="4.4" fill="#0c94b9"/>
<rect x="683.0" y="469.5" width="5.0" height="4.4" fill="#11c8fa"/>
<rect x="672.0" y="473.8" width="6.7" height="4.4" fill="#0c567b"/>
<rect x="678.2" y="473.8" width="5.8" height="4.4" fill="#1174a6"/>
<rect x="676.0" y="477.8" width="10.0" height="4.4" fill="#1050c0"/>
<rect x="676.0" y="481.8" width="5.1" height="4.4" fill="#0050d4"/>
<rect x="680.6" y="481.8" width="7.4" height="4.4" fill="#0061ff"/>
<rect x="678.2" y="485.3" width="5.0" height="4.4" fill="#0045c8"/>
<rect x="682.7" y="485.3" width="7.6" height="4.4" fill="#0055f7"/>
<rect x="680.0" y="488.8" width="6.6" height="4.4" fill="#003cc0"/>
<rect x="686.1" y="488.8" width="9.9" height="4.4" fill="#0053ff"/>
<rect x="681.7" y="492.6" width="7.1" height="4.4" fill="#004ed1"/>
<rect x="688.3" y="492.6" width="8.8" height="4.4" fill="#005bf4"/>
<rect x="684.0" y="496.4" width="5.4" height="4.4" fill="#0055c3"/>
<rect x="688.9" y="496.4" width="7.1" height="4.4" fill="#0072ff"/>
<rect x="692.0" y="501.8" width="9.1" height="4.4" fill="#31b887"/>
<rect x="700.6" y="501.8" width="7.4" height="4.4" fill="#43fbb8"/>
<rect x="684.0" y="505.3" width="9.3" height="3.0" fill="#2ca083"/>
<rect x="692.8" y="505.3" width="7.2" height="3.0" fill="#32b896"/>
<rect x="696.0" y="513.9" width="8.0" height="3.0" fill="#60e090"/>
<rect x="684.0" y="517.8" width="11.7" height="4.4" fill="#a7a70e"/>
<rect x="695.2" y="517.8" width="8.8" height="4.4" fill="#c2c210"/>
<rect x="688.0" y="521.4" width="8.7" height="4.4" fill="#798618"/>
<rect x="696.2" y="521.4" width="13.8" height="4.4" fill="#aec023"/>
<rect x="700.0" y="525.3" width="7.7" height="4.4" fill="#dbdb00"/>
<rect x="707.2" y="525.3" width="8.8" height="4.4" fill="#ffff00"/>
<rect x="688.0" y="530.4" width="9.8" height="4.4" fill="#35c79f"/>
<rect x="697.3" y="530.4" width="6.7" height="4.4" fill="#3febbc"/>
<rect x="686.0" y="533.8" width="6.4" height="4.4" fill="#1994ad"/>
<rect x="691.9" y="533.8" width="8.1" height="4.4" fill="#22cef0"/>
<rect x="684.0" y="537.5" width="6.8" height="4.4" fill="#0fa4ee"/>
<rect x="690.3" y="537.5" width="5.7" height="4.4" fill="#11beff"/>
<rect x="684.0" y="541.8" width="7.6" height="4.4" fill="#0e6fd0"/>
<rect x="691.1" y="541.8" width="4.9" height="4.4" fill="#1186fb"/>
<rect x="684.0" y="545.6" width="7.2" height="4.4" fill="#003fc8"/>
<rect x="690.7" y="545.6" width="5.3" height="4.4" fill="#0057ff"/>
<rect x="684.0" y="549.8" width="8.0" height="3.0" fill="#1060d0"/>
<rect x="684.0" y="558.6" width="9.0" height="3.0" fill="#001dbf"/>
<rect x="692.5" y="558.6" width="7.5" height="3.0" fill="#0020ce"/>
<rect x="686.0" y="560.8" width="6.1" height="4.4" fill="#0f2d96"/>
<rect x="691.6" y="560.8" width="8.4" height="4.4" fill="#1030a0"/>
<rect x="688.0" y="565.8" width="7.9" height="4.4" fill="#0e6ec0"/>
<rect x="695.4" y="565.8" width="8.6" height="4.4" fill="#1186eb"/>
<rect x="688.0" y="570.8" width="9.6" height="4.4" fill="#0f96d3"/>
<rect x="697.1" y="570.8" width="6.9" height="4.4" fill="#10a4e6"/>
<rect x="689.3" y="573.8" width="6.2" height="4.4" fill="#10b8e9"/>
<rect x="695.1" y="573.8" width="9.2" height="4.4" fill="#12cfff"/>
<rect x="688.0" y="576.8" width="7.1" height="4.4" fill="#0c9cb4"/>
<rect x="694.6" y="576.8" width="9.4" height="4.4" fill="#10ccec"/>
<rect x="688.0" y="581.8" width="7.4" height="4.4" fill="#0d9dbc"/>
<rect x="694.9" y="581.8" width="7.1" height="4.4" fill="#11d4fe"/>
<rect x="688.0" y="587.6" width="7.5" height="4.4" fill="#0dadd4"/>
<rect x="695.0" y="587.6" width="5.0" height="4.4" fill="#12e8ff"/>
<rect x="688.0" y="592.8" width="4.9" height="3.0" fill="#0e8fac"/>
<rect x="692.4" y="592.8" width="7.6" height="3.0" fill="#11aed0"/>
<rect x="694.0" y="602.2" width="10.0" height="3.0" fill="#309070"/>
<rect x="691.0" y="604.8" width="8.0" height="4.4" fill="#2faf8c"/>
<rect x="698.5" y="604.8" width="5.3" height="4.4" fill="#43fcca"/>
<rect x="688.0" y="609.3" width="6.4" height="3.0" fill="#29a589"/>
<rect x="693.9" y="609.3" width="6.1" height="3.0" fill="#32c9a7"/>
<rect x="694.0" y="617.2" width="10.0" height="3.0" fill="#1090b0"/>
<rect x="692.0" y="619.3" width="5.5" height="4.4" fill="#0fb2df"/>
<rect x="697.0" y="619.3" width="7.0" height="4.4" fill="#12d4ff"/>
<rect x="689.3" y="622.4" width="10.4" height="4.4" fill="#0f9bc8"/>
<rect x="688.0" y="625.5" width="6.8" height="3.0" fill="#0f87b5"/>
<rect x="694.3" y="625.5" width="5.7" height="3.0" fill="#1198cb"/>
<rect x="700.0" y="654.2" width="4.9" height="3.0" fill="#2a8d71"/>
<rect x="704.4" y="654.2" width="7.6" height="3.0" fill="#309f7f"/>
<rect x="692.0" y="656.8" width="11.3" height="4.4" fill="#38d199"/>
<rect x="702.8" y="656.8" width="9.2" height="4.4" fill="#41f2b2"/>
<rect x="692.0" y="661.3" width="6.7" height="4.4" fill="#238d6a"/>
<rect x="698.2" y="661.3" width="9.8" height="4.4" fill="#30c191"/>
<rect x="696.0" y="665.8" width="7.6" height="4.4" fill="#25b9a1"/>
<rect x="703.1" y="665.8" width="4.9" height="4.4" fill="#35ffe6"/>
<rect x="692.0" y="670.8" width="6.6" height="4.4" fill="#269980"/>
<rect x="698.1" y="670.8" width="9.9" height="4.4" fill="#32c9a7"/>
<rect x="692.0" y="676.5" width="7.5" height="4.4" fill="#3ce2b5"/>
<rect x="699.0" y="676.5" width="9.0" height="4.4" fill="#41f3c3"/>
<rect x="691.9" y="679.6" width="7.2" height="4.4" fill="#238b72"/>
<rect x="698.6" y="679.6" width="7.5" height="4.4" fill="#2db494"/>
<rect x="692.0" y="682.8" width="7.8" height="4.4" fill="#26a68c"/>
<rect x="699.3" y="682.8" width="6.7" height="4.4" fill="#32dab8"/>
<rect x="693.2" y="685.8" width="6.8" height="4.4" fill="#15918c"/>
<rect x="699.4" y="685.8" width="5.7" height="4.4" fill="#1dc2bb"/>
<rect x="692.0" y="688.8" width="6.8" height="4.4" fill="#0fd4e4"/>
<rect x="698.3" y="688.8" width="5.7" height="4.4" fill="#10dcec"/>
<rect x="689.2" y="692.3" width="10.4" height="4.4" fill="#0fc7de"/>
<rect x="688.0" y="695.8" width="6.1" height="4.4" fill="#0fb6d5"/>
<rect x="693.6" y="695.8" width="6.4" height="4.4" fill="#12d3f6"/>
<rect x="688.0" y="700.8" width="10.0" height="3.0" fill="#106080"/>
<rect x="688.0" y="711.0" width="7.7" height="3.0" fill="#005ed7"/>
<rect x="695.2" y="711.0" width="4.8" height="3.0" fill="#007dff"/>
<rect x="688.0" y="714.8" width="10.0" height="4.4" fill="#1050c0"/>
<rect x="686.9" y="717.8" width="4.9" height="4.4" fill="#063ba5"/>
<rect x="691.3" y="717.8" width="7.7" height="4.4" fill="#084edb"/>
<rect x="688.0" y="720.8" width="5.9" height="4.4" fill="#0042d1"/>
<rect x="693.4" y="720.8" width="6.6" height="4.4" fill="#0053ff"/>
<rect x="688.0" y="726.6" width="8.0" height="4.4" fill="#10a0f0"/>
<rect x="688.0" y="730.8" width="6.0" height="3.0" fill="#1070a0"/>
<rect x="690.0" y="738.2" width="6.7" height="3.0" fill="#0f66a0"/>
<rect x="696.2" y="738.2" width="7.8" height="3.0" fill="#127dc4"/>
<rect x="688.0" y="740.8" width="7.0" height="4.4" fill="#0d72cb"/>
<rect x="694.5" y="740.8" width="9.5" height="4.4" fill="#119dff"/>
<rect x="684.0" y="745.4" width="8.0" height="3.0" fill="#0050f0"/>
<rect x="692.0" y="756.2" width="6.9" height="3.0" fill="#0f74da"/>
<rect x="698.4" y="756.2" width="5.6" height="3.0" fill="#118aff"/>
<rect x="692.0" y="759.8" width="10.0" height="4.4" fill="#1070d0"/>
<rect x="692.0" y="764.8" width="7.4" height="4.4" fill="#0f84e9"/>
<rect x="698.9" y="764.8" width="5.1" height="4.4" fill="#119aff"/>
<rect x="690.0" y="768.8" width="5.6" height="4.4" fill="#0c538e"/>
<rect x="695.1" y="768.8" width="6.9" height="4.4" fill="#127bd3"/>
<rect x="688.0" y="772.8" width="9.5" height="4.4" fill="#0f94ec"/>
<rect x="697.0" y="772.8" width="7.0" height="4.4" fill="#10a3ff"/>
<rect x="688.0" y="776.8" width="6.9" height="4.4" fill="#004be0"/>
<rect x="694.4" y="776.8" width="5.6" height="4.4" fill="#0051f2"/>
<rect x="688.0" y="780.8" width="4.8" height="4.4" fill="#0049b6"/>
<rect x="692.3" y="780.8" width="7.7" height="4.4" fill="#0061f3"/>
<rect x="700.0" y="780.8" width="6.7" height="4.4" fill="#57cc74"/>
<rect x="706.2" y="780.8" width="5.8" height="4.4" fill="#69f58c"/>
<rect x="688.0" y="785.3" width="10.0" height="4.4" fill="#10a0f0"/>
<rect x="698.0" y="785.3" width="10.0" height="4.4" fill="#60e080"/>
<rect x="688.0" y="788.8" width="8.9" height="4.4" fill="#4cb56a"/>
<rect x="696.4" y="788.8" width="7.6" height="4.4" fill="#59d67d"/>
<rect x="688.0" y="792.8" width="8.0" height="4.4" fill="#407040"/>
<rect x="688.0" y="796.4" width="6.0" height="4.4" fill="#0f59c2"/>
<rect x="693.5" y="796.4" width="6.5" height="4.4" fill="#1168e1"/>
<rect x="688.0" y="800.8" width="7.1" height="4.4" fill="#0052cd"/>
<rect x="694.6" y="800.8" width="9.4" height="4.4" fill="#0060f1"/>
<rect x="692.0" y="805.3" width="5.9" height="4.4" fill="#0fbde7"/>
<rect x="697.4" y="805.3" width="6.6" height="4.4" fill="#10ccfa"/>
<rect x="688.0" y="808.8" width="6.3" height="4.4" fill="#0d6976"/>
<rect x="693.8" y="808.8" width="6.2" height="4.4" fill="#108393"/>
<rect x="688.5" y="811.8" width="9.9" height="4.4" fill="#115fb5"/>
<rect x="688.0" y="814.8" width="4.9" height="4.4" fill="#0d28a1"/>
<rect x="692.4" y="814.8" width="7.6" height="4.4" fill="#1031c5"/>
<rect x="688.0" y="818.8" width="10.0" height="3.0" fill="#1030a0"/>
<rect x="692.0" y="826.2" width="6.5" height="3.0" fill="#0d82c3"/>
<rect x="698.0" y="826.2" width="10.0" height="3.0" fill="#11acff"/>
<rect x="692.0" y="829.4" width="4.9" height="4.4" fill="#0082e6"/>
<rect x="696.4" y="829.4" width="7.6" height="4.4" fill="#008ffd"/>
<rect x="692.0" y="832.8" width="10.0" height="4.4" fill="#1060a0"/>
<rect x="692.9" y="836.0" width="5.8" height="4.4" fill="#064aaf"/>
<rect x="698.2" y="836.0" width="6.0" height="4.4" fill="#0965f0"/>
<rect x="692.0" y="839.3" width="7.4" height="4.4" fill="#0047e3"/>
<rect x="698.9" y="839.3" width="5.1" height="4.4" fill="#0052ff"/>
<rect x="692.0" y="842.8" width="5.7" height="4.4" fill="#0049e8"/>
<rect x="697.2" y="842.8" width="6.8" height="4.4" fill="#0054ff"/>
<rect x="692.0" y="846.5" width="6.6" height="4.4" fill="#0039e2"/>
<rect x="698.1" y="846.5" width="5.9" height="4.4" fill="#0040ff"/>
<rect x="694.0" y="850.8" width="10.0" height="3.0" fill="#1030a0"/>
<rect x="696.0" y="858.2" width="5.9" height="3.0" fill="#0f96e1"/>
<rect x="701.4" y="858.2" width="6.6" height="3.0" fill="#10a4f6"/>
<rect x="696.0" y="861.8" width="8.4" height="4.4" fill="#0c6d9d"/>
<rect x="703.9" y="861.8" width="6.1" height="4.4" fill="#108dcc"/>
<rect x="696.0" y="865.8" width="8.1" height="4.4" fill="#0d7eb0"/>
<rect x="703.6" y="865.8" width="8.4" height="4.4" fill="#11aaee"/>
<rect x="696.0" y="869.8" width="9.2" height="3.0" fill="#0c698c"/>
<rect x="704.7" y="869.8" width="7.3" height="3.0" fill="#1197ca"/>
<rect x="696.0" y="878.2" width="5.8" height="3.0" fill="#0fb2df"/>
<rect x="701.3" y="878.2" width="6.7" height="3.0" fill="#12d3ff"/>
<rect x="698.0" y="880.8" width="8.5" height="4.4" fill="#0e9dc7"/>
<rect x="706.0" y="880.8" width="6.0" height="4.4" fill="#10b5e6"/>
<rect x="700.0" y="883.8" width="8.6" height="4.4" fill="#0eb0d8"/>
<rect x="708.1" y="883.8" width="7.9" height="4.4" fill="#11d7ff"/>
<rect x="700.0" y="887.8" width="8.9" height="4.4" fill="#0ea7d1"/>
<rect x="708.4" y="887.8" width="11.6" height="4.4" fill="#12d4ff"/>
<rect x="700.0" y="892.8" width="10.4" height="4.4" fill="#1ab4c0"/>
<rect x="709.9" y="892.8" width="14.1" height="4.4" fill="#20e0f1"/>
<rect x="700.8" y="896.3" width="11.2" height="4.4" fill="#14b9cd"/>
<rect x="711.5" y="896.3" width="13.5" height="4.4" fill="#19e2fb"/>
<rect x="700.0" y="899.8" width="12.3" height="4.4" fill="#0da6c0"/>
<rect x="711.8" y="899.8" width="11.2" height="4.4" fill="#11e3ff"/>
<rect x="701.4" y="903.3" width="10.1" height="4.4" fill="#14a6ba"/>
<rect x="711.0" y="903.3" width="13.8" height="4.4" fill="#19d1e9"/>
<rect x="700.0" y="906.8" width="9.1" height="4.4" fill="#1aa7b4"/>
<rect x="708.6" y="906.8" width="13.4" height="4.4" fill="#24e8fa"/>
<rect x="700.0" y="911.8" width="9.5" height="4.4" fill="#0d7373"/>
<rect x="709.0" y="911.8" width="11.0" height="4.4" fill="#109090"/>
<rect x="700.8" y="914.8" width="12.9" height="4.4" fill="#0b7681"/>
<rect x="713.2" y="914.8" width="9.9" height="4.4" fill="#0fa4b3"/>
<rect x="700.0" y="917.8" width="12.2" height="4.4" fill="#0c9eb7"/>
<rect x="711.7" y="917.8" width="12.3" height="4.4" fill="#12e9ff"/>
<rect x="701.1" y="921.3" width="14.5" height="4.4" fill="#21b3b3"/>
<rect x="715.1" y="921.3" width="10.3" height="4.4" fill="#27d6d6"/>
<rect x="702.0" y="924.8" width="14.0" height="4.4" fill="#3cd2b4"/>
<rect x="715.5" y="924.8" width="11.5" height="4.4" fill="#40e2c1"/>
<rect x="700.0" y="929.8" width="11.2" height="4.4" fill="#39ac81"/>
<rect x="710.7" y="929.8" width="15.3" height="4.4" fill="#42c796"/>
<rect x="700.0" y="935.4" width="16.6" height="4.4" fill="#58cc92"/>
<rect x="716.1" y="935.4" width="10.9" height="4.4" fill="#65eca8"/>
<rect x="700.0" y="939.8" width="10.6" height="4.4" fill="#45a56e"/>
<rect x="710.1" y="939.8" width="15.9" height="4.4" fill="#55cc88"/>
<rect x="700.0" y="943.8" width="12.4" height="4.4" fill="#65c973"/>
<rect x="711.9" y="943.8" width="12.1" height="4.4" fill="#75ea86"/>
<rect x="700.0" y="948.8" width="13.1" height="4.4" fill="#45a560"/>
<rect x="712.6" y="948.8" width="9.4" height="4.4" fill="#50c070"/>
<rect x="700.0" y="953.8" width="11.6" height="4.4" fill="#24aa9e"/>
<rect x="711.1" y="953.8" width="8.9" height="4.4" fill="#35f8e6"/>
<rect x="696.0" y="959.4" width="12.1" height="3.0" fill="#259f93"/>
<rect x="707.6" y="959.4" width="8.4" height="3.0" fill="#30d2c2"/>
<rect x="696.0" y="970.2" width="16.8" height="3.0" fill="#77b935"/>
<rect x="712.3" y="970.2" width="14.7" height="3.0" fill="#95e742"/>
<rect x="700.0" y="972.8" width="9.1" height="4.4" fill="#404d26"/>
<rect x="708.6" y="972.8" width="7.4" height="4.4" fill="#506030"/>
<rect x="700.0" y="975.8" width="12.7" height="4.4" fill="#76ce4a"/>
<rect x="712.2" y="975.8" width="12.8" height="4.4" fill="#8ffa59"/>
<rect x="696.0" y="981.3" width="9.5" height="3.0" fill="#80b939"/>
<rect x="705.0" y="981.3" width="15.0" height="3.0" fill="#94d542"/>
<rect x="696.0" y="990.2" width="15.9" height="3.0" fill="#5bc25b"/>
<rect x="711.4" y="990.2" width="10.6" height="3.0" fill="#6fef6f"/>
<rect x="693.0" y="993.8" width="12.2" height="4.4" fill="#51bc6b"/>
<rect x="704.7" y="993.8" width="15.3" height="4.4" fill="#60e181"/>
<rect x="696.0" y="997.8" width="11.3" height="4.4" fill="#336640"/>
<rect x="706.8" y="997.8" width="9.2" height="4.4" fill="#458b57"/>
<rect x="696.0" y="1000.8" width="10.3" height="4.4" fill="#35bb93"/>
<rect x="705.8" y="1000.8" width="14.2" height="4.4" fill="#45f0bd"/>
<rect x="696.0" y="1004.8" width="10.1" height="4.4" fill="#26977e"/>
<rect x="705.6" y="1004.8" width="14.4" height="4.4" fill="#35d3b0"/>
<rect x="696.0" y="1008.4" width="11.3" height="4.4" fill="#26b3a6"/>
<rect x="706.8" y="1008.4" width="13.2" height="4.4" fill="#33efde"/>
<rect x="696.0" y="1012.8" width="13.0" height="4.4" fill="#2cbfb0"/>
<rect x="708.5" y="1012.8" width="11.5" height="4.4" fill="#33dccb"/>
<rect x="696.0" y="1016.8" width="10.6" height="4.4" fill="#2cc0b2"/>
<rect x="706.1" y="1016.8" width="7.9" height="4.4" fill="#35e7d5"/>
<rect x="714.0" y="1016.8" width="8.0" height="4.4" fill="#8dc52a"/>
<rect x="721.5" y="1016.8" width="5.5" height="4.4" fill="#acf134"/>
<rect x="696.0" y="1020.8" width="11.2" height="4.4" fill="#779b24"/>
<rect x="706.7" y="1020.8" width="13.3" height="4.4" fill="#b1e735"/>
<rect x="698.0" y="1025.8" width="12.3" height="4.4" fill="#598c33"/>
<rect x="709.8" y="1025.8" width="14.2" height="4.4" fill="#76ba44"/>
<rect x="698.0" y="1031.4" width="15.6" height="4.4" fill="#75cc49"/>
<rect x="713.1" y="1031.4" width="12.9" height="4.4" fill="#7fdf50"/>
<rect x="699.0" y="1034.6" width="16.7" height="4.4" fill="#7fd650"/>
<rect x="715.2" y="1034.6" width="13.5" height="4.4" fill="#98ff5f"/>
<rect x="700.0" y="1037.8" width="16.9" height="4.4" fill="#6db144"/>
<rect x="716.4" y="1037.8" width="11.6" height="4.4" fill="#8de658"/>
<rect x="701.1" y="1040.8" width="15.6" height="4.4" fill="#76b835"/>
<rect x="716.3" y="1040.8" width="15.2" height="4.4" fill="#90e141"/>
<rect x="700.0" y="1043.8" width="14.3" height="4.4" fill="#78b424"/>
<rect x="713.8" y="1043.8" width="17.2" height="4.4" fill="#aeff34"/>
<rect x="700.0" y="1048.8" width="19.8" height="4.4" fill="#86a32d"/>
<rect x="719.3" y="1048.8" width="13.7" height="4.4" fill="#96b832"/>
<rect x="700.0" y="1053.3" width="17.6" height="4.4" fill="#9c840c"/>
<rect x="717.1" y="1053.3" width="19.9" height="4.4" fill="#e5c112"/>
<rect x="700.0" y="1057.5" width="14.3" height="4.4" fill="#90900c"/>
<rect x="713.8" y="1057.5" width="19.2" height="4.4" fill="#bfbf10"/>
<rect x="704.0" y="1060.8" width="13.3" height="4.4" fill="#5b4e0d"/>
<rect x="716.8" y="1060.8" width="9.2" height="4.4" fill="#7a6911"/>
<rect x="702.0" y="1064.8" width="12.6" height="4.4" fill="#9fba1b"/>
<rect x="714.1" y="1064.8" width="20.9" height="4.4" fill="#d0f323"/>
<rect x="716.0" y="1067.8" width="8.1" height="3.0" fill="#6e7a18"/>
<rect x="723.6" y="1067.8" width="6.4" height="3.0" fill="#97a822"/>
<rect x="704.0" y="1078.2" width="20.4" height="3.0" fill="#d0c10f"/>
<rect x="723.9" y="1078.2" width="16.1" height="3.0" fill="#decf10"/>
<rect x="708.0" y="1080.3" width="16.4" height="4.4" fill="#856f0f"/>
<rect x="723.9" y="1080.3" width="16.1" height="4.4" fill="#9a8011"/>
<rect x="704.0" y="1083.6" width="20.2" height="4.4" fill="#b18b0d"/>
<rect x="723.7" y="1083.6" width="16.3" height="4.4" fill="#ebb911"/>
<rect x="706.0" y="1087.8" width="13.2" height="4.4" fill="#ad820e"/>
<rect x="718.7" y="1087.8" width="23.3" height="4.4" fill="#cb9811"/>
<rect x="707.2" y="1090.8" width="15.7" height="4.4" fill="#b5840e"/>
<rect x="722.4" y="1090.8" width="23.2" height="4.4" fill="#c38e0f"/>
<rect x="708.0" y="1093.8" width="13.8" height="4.4" fill="#c78e0e"/>
<rect x="721.3" y="1093.8" width="23.7" height="4.4" fill="#de9f10"/>
<rect x="710.0" y="1097.0" width="17.8" height="4.4" fill="#af780c"/>
<rect x="727.3" y="1097.0" width="16.3" height="4.4" fill="#e59d10"/>
<rect x="712.0" y="1100.3" width="18.1" height="4.4" fill="#cf8a0e"/>
<rect x="729.6" y="1100.3" width="15.4" height="4.4" fill="#ffac11"/>
<rect x="712.6" y="1103.5" width="19.3" height="4.4" fill="#bd6b0c"/>
<rect x="731.4" y="1103.5" width="16.9" height="4.4" fill="#d77a0e"/>
<rect x="712.0" y="1106.6" width="20.1" height="4.4" fill="#cd600e"/>
<rect x="731.6" y="1106.6" width="23.4" height="4.4" fill="#ff7b12"/>
<rect x="712.0" y="1111.8" width="21.0" height="4.4" fill="#c8500d"/>
<rect x="732.5" y="1111.8" width="19.5" height="4.4" fill="#ff6912"/>
<rect x="716.0" y="1116.8" width="19.6" height="4.4" fill="#a2a20c"/>
<rect x="735.1" y="1116.8" width="14.9" height="4.4" fill="#d1d110"/>
<rect x="715.3" y="1120.0" width="13.4" height="4.4" fill="#d2ab10"/>
<rect x="728.2" y="1120.0" width="23.8" height="4.4" fill="#e6bc11"/>
<rect x="716.0" y="1123.3" width="17.3" height="4.4" fill="#bc790d"/>
<rect x="732.8" y="1123.3" width="17.2" height="4.4" fill="#f09a11"/>
<rect x="712.0" y="1128.5" width="11.0" height="3.0" fill="#b5700e"/>
<rect x="722.5" y="1128.5" width="7.5" height="3.0" fill="#d18110"/>
<rect x="712.0" y="1146.2" width="22.5" height="3.0" fill="#b7310c"/>
<rect x="734.0" y="1146.2" width="26.0" height="3.0" fill="#f84211"/>
<rect x="714.0" y="1148.8" width="24.0" height="4.4" fill="#b5380e"/>
<rect x="737.5" y="1148.8" width="20.5" height="4.4" fill="#de4411"/>
<rect x="716.0" y="1152.5" width="23.1" height="4.4" fill="#d53d0f"/>
<rect x="738.6" y="1152.5" width="17.4" height="4.4" fill="#e34110"/>
<rect x="721.9" y="1155.6" width="17.4" height="4.4" fill="#ad500c"/>
<rect x="738.8" y="1155.6" width="15.3" height="4.4" fill="#c45b0e"/>
<rect x="725.0" y="1158.8" width="15.4" height="4.4" fill="#b6750d"/>
<rect x="739.9" y="1158.8" width="10.1" height="4.4" fill="#f19b11"/>
<rect x="716.0" y="1163.8" width="8.2" height="4.4" fill="#b7270d"/>
<rect x="723.7" y="1163.8" width="11.3" height="4.4" fill="#df3010"/>
<rect x="735.0" y="1168.8" width="14.1" height="4.4" fill="#800c0c"/>
<rect x="748.6" y="1168.8" width="9.4" height="4.4" fill="#ae1010"/>
<rect x="712.0" y="1173.4" width="26.0" height="4.4" fill="#bf1b0e"/>
<rect x="737.5" y="1173.4" width="22.5" height="4.4" fill="#e62110"/>
<rect x="710.0" y="1176.3" width="27.4" height="4.4" fill="#a92a0e"/>
<rect x="736.9" y="1176.3" width="19.1" height="4.4" fill="#c83211"/>
<rect x="708.0" y="1179.6" width="23.7" height="4.4" fill="#d23c0f"/>
<rect x="731.2" y="1179.6" width="20.8" height="4.4" fill="#f74712"/>
<rect x="706.0" y="1183.8" width="19.9" height="4.4" fill="#bb390e"/>
<rect x="725.4" y="1183.8" width="24.6" height="4.4" fill="#d24110"/>
<rect x="704.0" y="1187.8" width="11.2" height="4.4" fill="#98b61e"/>
<rect x="714.7" y="1187.8" width="13.3" height="4.4" fill="#add023"/>
<rect x="728.0" y="1187.8" width="11.3" height="4.4" fill="#cb510e"/>
<rect x="738.8" y="1187.8" width="13.2" height="4.4" fill="#fa6411"/>
<rect x="704.0" y="1191.8" width="24.7" height="4.4" fill="#ca510d"/>
<rect x="728.2" y="1191.8" width="21.8" height="4.4" fill="#fa6411"/>
<rect x="704.0" y="1194.8" width="21.4" height="4.4" fill="#b12c0f"/>
<rect x="724.9" y="1194.8" width="25.1" height="4.4" fill="#d23411"/>
<rect x="704.0" y="1198.4" width="19.4" height="4.4" fill="#a91a0d"/>
<rect x="722.9" y="1198.4" width="27.1" height="4.4" fill="#e62312"/>
<rect x="706.0" y="1201.8" width="22.9" height="4.4" fill="#c0290e"/>
<rect x="728.4" y="1201.8" width="19.6" height="4.4" fill="#ef3311"/>
<rect x="708.0" y="1204.8" width="15.3" height="4.4" fill="#cc360e"/>
<rect x="722.8" y="1204.8" width="22.2" height="4.4" fill="#ff4511"/>
<rect x="696.0" y="1209.8" width="9.7" height="4.4" fill="#82a91a"/>
<rect x="705.2" y="1209.8" width="10.8" height="4.4" fill="#a6d821"/>
<rect x="716.0" y="1209.8" width="12.5" height="4.4" fill="#b9630c"/>
<rect x="728.0" y="1209.8" width="12.0" height="4.4" fill="#ff8c12"/>
<rect x="680.0" y="1212.8" width="7.8" height="4.4" fill="#90d72b"/>
<rect x="687.3" y="1212.8" width="12.7" height="4.4" fill="#a9fd33"/>
<rect x="700.0" y="1212.8" width="8.8" height="4.4" fill="#aeae0c"/>
<rect x="708.3" y="1212.8" width="11.7" height="4.4" fill="#e4e410"/>
<rect x="720.0" y="1212.8" width="10.3" height="4.4" fill="#e4890f"/>
<rect x="729.8" y="1212.8" width="15.2" height="4.4" fill="#f59310"/>
<rect x="680.0" y="1217.8" width="7.9" height="4.4" fill="#d1c30e"/>
<rect x="687.4" y="1217.8" width="12.6" height="4.4" fill="#fffa12"/>
<rect x="700.0" y="1217.8" width="19.5" height="4.4" fill="#c56f00"/>
<rect x="719.0" y="1217.8" width="26.0" height="4.4" fill="#ff9900"/>
<rect x="680.0" y="1223.5" width="10.0" height="4.4" fill="#10a0f0"/>
<rect x="700.0" y="1223.5" width="19.9" height="4.4" fill="#c66a0d"/>
<rect x="719.4" y="1223.5" width="25.6" height="4.4" fill="#fe8811"/>
<rect x="680.0" y="1229.8" width="8.0" height="4.4" fill="#10a0f0"/>
<rect x="730.0" y="1229.8" width="9.5" height="4.4" fill="#b5410d"/>
<rect x="739.0" y="1229.8" width="6.0" height="4.4" fill="#e75210"/>
<rect x="681.0" y="1233.8" width="7.0" height="3.0" fill="#1090d0"/>
</g>
<g class="fT3">
<rect x="995.0" y="331.6" width="7.5" height="3.0" fill="#91ac1a"/>
<rect x="1002.0" y="331.6" width="4.8" height="3.0" fill="#bee123"/>
<rect x="988.0" y="334.3" width="9.0" height="4.4" fill="#94b919"/>
<rect x="996.5" y="334.3" width="7.5" height="4.4" fill="#beee20"/>
<rect x="976.0" y="339.8" width="10.5" height="4.4" fill="#0048bf"/>
<rect x="986.0" y="339.8" width="10.0" height="4.4" fill="#0063ff"/>
<rect x="996.0" y="339.8" width="8.0" height="4.4" fill="#a0e040"/>
<rect x="978.0" y="343.8" width="11.9" height="4.4" fill="#0076eb"/>
<rect x="989.4" y="343.8" width="8.6" height="4.4" fill="#0080fe"/>
<rect x="998.0" y="343.8" width="8.0" height="4.4" fill="#80e060"/>
<rect x="980.0" y="347.8" width="7.9" height="4.4" fill="#0c94b9"/>
<rect x="987.4" y="347.8" width="12.6" height="4.4" fill="#12d2ff"/>
<rect x="1000.0" y="347.8" width="6.0" height="4.4" fill="#60d080"/>
<rect x="984.0" y="352.5" width="9.0" height="4.4" fill="#3ead7b"/>
<rect x="992.5" y="352.5" width="15.5" height="4.4" fill="#50df9f"/>
<rect x="984.0" y="356.8" width="9.7" height="4.4" fill="#43af79"/>
<rect x="993.2" y="356.8" width="14.8" height="4.4" fill="#50d191"/>
<rect x="984.0" y="361.5" width="12.3" height="4.4" fill="#55c780"/>
<rect x="995.8" y="361.5" width="14.2" height="4.4" fill="#68f29c"/>
<rect x="986.0" y="366.8" width="10.9" height="4.4" fill="#56ca82"/>
<rect x="996.4" y="366.8" width="12.6" height="4.4" fill="#66ed99"/>
<rect x="988.0" y="372.2" width="11.6" height="4.4" fill="#57ae63"/>
<rect x="999.1" y="372.2" width="8.9" height="4.4" fill="#74e784"/>
<rect x="988.0" y="375.8" width="10.4" height="3.0" fill="#5ac369"/>
<rect x="997.9" y="375.8" width="10.1" height="3.0" fill="#66de77"/>
<rect x="988.0" y="383.2" width="10.8" height="3.0" fill="#3eae7c"/>
<rect x="998.3" y="383.2" width="11.7" height="3.0" fill="#52e4a3"/>
<rect x="988.0" y="385.6" width="7.0" height="3.0" fill="#3da779"/>
<rect x="994.5" y="385.6" width="9.5" height="3.0" fill="#47c28d"/>
<rect x="1004.0" y="391.2" width="11.0" height="3.0" fill="#70c050"/>
<rect x="988.0" y="393.8" width="16.0" height="3.0" fill="#6cbd51"/>
<rect x="1003.5" y="393.8" width="11.5" height="3.0" fill="#8af268"/>
<rect x="988.0" y="402.6" width="8.1" height="1.6" fill="#1badad"/>
<rect x="995.6" y="402.6" width="10.4" height="1.6" fill="#20d0d0"/>
<rect x="996.0" y="409.2" width="8.7" height="3.0" fill="#3e7c4b"/>
<rect x="1004.2" y="409.2" width="9.8" height="3.0" fill="#509f5f"/>
<rect x="992.0" y="410.8" width="13.3" height="4.4" fill="#47a65f"/>
<rect x="1004.8" y="410.8" width="9.2" height="4.4" fill="#69f58c"/>
<rect x="992.1" y="414.1" width="10.6" height="4.4" fill="#248b76"/>
<rect x="1002.2" y="414.1" width="9.1" height="4.4" fill="#33c4a7"/>
<rect x="992.0" y="417.3" width="11.3" height="3.0" fill="#0fc5e3"/>
<rect x="1002.8" y="417.3" width="7.2" height="3.0" fill="#11dcfe"/>
<rect x="992.0" y="427.2" width="8.1" height="3.0" fill="#0e7fc6"/>
<rect x="999.6" y="427.2" width="6.4" height="3.0" fill="#1093e5"/>
<rect x="1006.0" y="425.8" width="6.3" height="4.4" fill="#6ec052"/>
<rect x="1011.8" y="425.8" width="6.2" height="4.4" fill="#85e863"/>
<rect x="996.0" y="429.8" width="9.4" height="4.4" fill="#429e69"/>
<rect x="1004.9" y="429.8" width="7.1" height="4.4" fill="#57d08b"/>
<rect x="992.0" y="433.8" width="11.0" height="3.0" fill="#80e060"/>
<rect x="1008.0" y="458.6" width="5.6" height="3.0" fill="#429e69"/>
<rect x="1013.1" y="458.6" width="8.9" height="3.0" fill="#4fbd7e"/>
<rect x="996.0" y="461.6" width="12.8" height="3.0" fill="#4ace85"/>
<rect x="1008.3" y="461.6" width="11.7" height="3.0" fill="#54ed98"/>
<rect x="1006.0" y="471.2" width="7.4" height="3.0" fill="#45cf98"/>
<rect x="1012.9" y="471.2" width="7.1" height="3.0" fill="#51f3b2"/>
<rect x="998.0" y="474.2" width="9.4" height="3.0" fill="#37b188"/>
<rect x="1006.9" y="474.2" width="11.1" height="3.0" fill="#45dfab"/>
<rect x="1020.0" y="483.2" width="8.0" height="3.0" fill="#90d040"/>
<rect x="1000.0" y="485.8" width="11.2" height="3.0" fill="#85ad35"/>
<rect x="1010.7" y="485.8" width="13.3" height="3.0" fill="#a4d542"/>
<rect x="1008.0" y="492.2" width="7.3" height="3.0" fill="#467038"/>
<rect x="1014.8" y="492.2" width="7.2" height="3.0" fill="#528342"/>
<rect x="1004.0" y="493.8" width="10.9" height="4.4" fill="#67cd67"/>
<rect x="1014.4" y="493.8" width="9.6" height="4.4" fill="#76ec76"/>
<rect x="1004.0" y="497.4" width="14.2" height="4.4" fill="#59be59"/>
<rect x="1017.7" y="497.4" width="9.3" height="4.4" fill="#7cff7c"/>
<rect x="1004.0" y="501.8" width="9.2" height="4.4" fill="#408140"/>
<rect x="1012.7" y="501.8" width="13.3" height="4.4" fill="#58af58"/>
<rect x="1004.0" y="506.4" width="7.7" height="4.4" fill="#53b36e"/>
<rect x="1011.2" y="506.4" width="12.8" height="4.4" fill="#6ae58d"/>
<rect x="1004.0" y="509.8" width="12.2" height="4.4" fill="#38c49a"/>
<rect x="1015.7" y="509.8" width="8.3" height="4.4" fill="#42e6b5"/>
<rect x="1006.0" y="513.8" width="8.3" height="4.4" fill="#37a68a"/>
<rect x="1013.8" y="513.8" width="10.2" height="4.4" fill="#3fbe9e"/>
<rect x="1006.0" y="516.8" width="6.2" height="4.4" fill="#3bcfa2"/>
<rect x="1011.7" y="516.8" width="10.3" height="4.4" fill="#44efbc"/>
<rect x="1004.0" y="521.6" width="8.0" height="3.0" fill="#40d0b0"/>
<rect x="1006.0" y="531.2" width="5.2" height="3.0" fill="#0d4f83"/>
<rect x="1010.7" y="531.2" width="7.3" height="3.0" fill="#1062a3"/>
<rect x="1004.0" y="533.6" width="7.3" height="4.4" fill="#0065c8"/>
<rect x="1010.8" y="533.6" width="5.2" height="4.4" fill="#008aff"/>
<rect x="1004.0" y="537.8" width="6.9" height="4.4" fill="#0d4c98"/>
<rect x="1010.4" y="537.8" width="5.6" height="4.4" fill="#1061c3"/>
<rect x="1004.0" y="541.3" width="10.0" height="4.4" fill="#1090f0"/>
<rect x="1002.0" y="545.8" width="9.0" height="3.0" fill="#1070d0"/>
<rect x="1010.0" y="563.2" width="6.7" height="3.0" fill="#27a99c"/>
<rect x="1016.2" y="563.2" width="6.8" height="3.0" fill="#33ddcc"/>
<rect x="1004.0" y="565.4" width="7.4" height="3.0" fill="#2bad9f"/>
<rect x="1010.9" y="565.4" width="9.1" height="3.0" fill="#32c7b7"/>
<rect x="1012.0" y="574.0" width="5.1" height="3.0" fill="#2bac9e"/>
<rect x="1016.6" y="574.0" width="7.4" height="3.0" fill="#35d4c3"/>
<rect x="1004.0" y="576.8" width="9.9" height="4.4" fill="#29b0a2"/>
<rect x="1013.4" y="576.8" width="8.6" height="4.4" fill="#35e5d4"/>
<rect x="1010.0" y="581.5" width="10.4" height="4.4" fill="#2e967f"/>
<rect x="1019.9" y="581.5" width="7.1" height="4.4" fill="#43dab8"/>
<rect x="1012.0" y="585.8" width="8.0" height="4.4" fill="#50f0b0"/>
<rect x="1004.0" y="589.5" width="4.8" height="3.0" fill="#33997f"/>
<rect x="1008.3" y="589.5" width="7.7" height="3.0" fill="#41c3a2"/>
<rect x="1020.0" y="599.0" width="7.0" height="3.0" fill="#c4c40e"/>
<rect x="1026.5" y="599.0" width="7.5" height="3.0" fill="#f7f712"/>
<rect x="1004.0" y="601.2" width="11.3" height="4.4" fill="#8b8b17"/>
<rect x="1014.8" y="601.2" width="15.2" height="4.4" fill="#d7d724"/>
<rect x="1004.0" y="605.8" width="7.0" height="4.4" fill="#51b06c"/>
<rect x="1010.5" y="605.8" width="5.5" height="4.4" fill="#60cf7f"/>
<rect x="999.6" y="609.6" width="7.4" height="4.4" fill="#50b070"/>
<rect x="1012.0" y="613.8" width="6.3" height="4.4" fill="#96e04b"/>
<rect x="1017.8" y="613.8" width="10.2" height="4.4" fill="#a9fd54"/>
<rect x="1000.0" y="617.8" width="14.1" height="4.4" fill="#73bb48"/>
<rect x="1013.6" y="617.8" width="10.4" height="4.4" fill="#8be257"/>
<rect x="1000.0" y="621.2" width="11.5" height="4.4" fill="#4b954b"/>
<rect x="1011.0" y="621.2" width="9.0" height="4.4" fill="#61c361"/>
<rect x="1008.0" y="625.8" width="6.0" height="4.4" fill="#48d78f"/>
<rect x="1013.5" y="625.8" width="6.5" height="4.4" fill="#57ffaf"/>
<rect x="1000.0" y="629.8" width="7.0" height="3.0" fill="#44b17b"/>
<rect x="1006.5" y="629.8" width="5.5" height="3.0" fill="#54da97"/>
<rect x="1000.0" y="638.7" width="8.0" height="3.0" fill="#1080e0"/>
<rect x="996.0" y="640.8" width="10.0" height="3.0" fill="#0090ff"/>
<rect x="996.0" y="651.2" width="8.0" height="3.0" fill="#0030e0"/>
<rect x="996.0" y="653.4" width="8.0" height="3.0" fill="#0030f0"/>
<rect x="1004.0" y="662.9" width="5.3" height="3.0" fill="#1ca8d2"/>
<rect x="1008.8" y="662.9" width="7.2" height="3.0" fill="#22ceff"/>
<rect x="1000.0" y="665.4" width="6.2" height="3.0" fill="#1c9cc7"/>
<rect x="1005.7" y="665.4" width="6.3" height="3.0" fill="#24c5fa"/>
<rect x="1010.0" y="675.2" width="7.5" height="3.0" fill="#245f53"/>
<rect x="1017.0" y="675.2" width="5.0" height="3.0" fill="#318372"/>
<rect x="1008.0" y="677.6" width="8.6" height="4.4" fill="#38d39b"/>
<rect x="1016.1" y="677.6" width="7.9" height="4.4" fill="#41f5b3"/>
<rect x="1000.0" y="680.8" width="9.8" height="3.0" fill="#289f84"/>
<rect x="1009.3" y="680.8" width="6.7" height="3.0" fill="#34d1ae"/>
<rect x="1008.0" y="690.2" width="10.0" height="3.0" fill="#20e0f0"/>
<rect x="1000.0" y="693.8" width="5.6" height="3.0" fill="#0d9797"/>
<rect x="1005.1" y="693.8" width="8.9" height="3.0" fill="#10bdbd"/>
<rect x="1008.0" y="702.7" width="8.0" height="3.0" fill="#1080b0"/>
<rect x="1004.0" y="705.3" width="7.1" height="4.4" fill="#0da1ca"/>
<rect x="1010.6" y="705.3" width="5.4" height="4.4" fill="#12d6ff"/>
<rect x="1000.0" y="708.8" width="10.0" height="3.0" fill="#1090d0"/>
<rect x="1008.0" y="718.7" width="8.0" height="3.0" fill="#1060b0"/>
<rect x="1004.0" y="721.4" width="6.5" height="4.4" fill="#0072cb"/>
<rect x="1010.0" y="721.4" width="6.0" height="4.4" fill="#0094ff"/>
<rect x="1000.0" y="724.8" width="8.0" height="3.0" fill="#1080e0"/>
<rect x="1008.0" y="734.2" width="10.0" height="3.0" fill="#106090"/>
<rect x="1004.0" y="736.6" width="5.8" height="4.4" fill="#006ec3"/>
<rect x="1009.3" y="736.6" width="6.7" height="4.4" fill="#008ffe"/>
<rect x="1004.0" y="740.8" width="8.0" height="4.4" fill="#1070c0"/>
<rect x="1008.0" y="745.5" width="8.0" height="4.4" fill="#10a0f0"/>
<rect x="1004.0" y="749.8" width="8.0" height="4.4" fill="#10a0f0"/>
<rect x="1004.0" y="753.8" width="6.0" height="3.0" fill="#106090"/>
<rect x="1004.0" y="763.2" width="8.0" height="3.0" fill="#101080"/>
<rect x="1004.0" y="765.2" width="4.0" height="3.0" fill="#0000c0"/>
<rect x="1006.0" y="774.7" width="10.0" height="3.0" fill="#0020ff"/>
<rect x="1008.0" y="776.8" width="10.0" height="3.0" fill="#1030a0"/>
<rect x="1012.0" y="782.7" width="8.0" height="3.0" fill="#1060a0"/>
<rect x="1008.0" y="784.8" width="7.7" height="3.0" fill="#0065ca"/>
<rect x="1015.2" y="784.8" width="6.8" height="3.0" fill="#0086ff"/>
<rect x="1012.0" y="794.2" width="8.0" height="3.0" fill="#1060b0"/>
<rect x="1008.0" y="796.5" width="7.9" height="3.0" fill="#0058c8"/>
<rect x="1015.4" y="796.5" width="6.6" height="3.0" fill="#0075ff"/>
<rect x="1012.0" y="806.9" width="10.0" height="3.0" fill="#1060e0"/>
<rect x="1010.0" y="808.8" width="10.0" height="4.4" fill="#0060f0"/>
<rect x="1020.0" y="813.5" width="8.0" height="4.4" fill="#2090a0"/>
<rect x="1014.0" y="817.8" width="10.0" height="4.4" fill="#10c0f0"/>
<rect x="1012.0" y="821.8" width="10.0" height="4.4" fill="#10a0d0"/>
<rect x="1012.0" y="824.8" width="8.0" height="4.4" fill="#10d0ff"/>
<rect x="1012.0" y="827.8" width="8.0" height="4.4" fill="#10c0f0"/>
<rect x="1010.0" y="831.4" width="8.0" height="3.0" fill="#10b0d0"/>
<rect x="1020.0" y="838.2" width="6.5" height="3.0" fill="#26997f"/>
<rect x="1026.0" y="838.2" width="8.0" height="3.0" fill="#34ceac"/>
<rect x="1020.0" y="840.8" width="10.0" height="4.4" fill="#50f0c0"/>
<rect x="1014.0" y="845.4" width="7.2" height="4.4" fill="#34b68f"/>
<rect x="1020.7" y="845.4" width="11.3" height="4.4" fill="#40dfaf"/>
<rect x="1020.0" y="849.3" width="10.0" height="4.4" fill="#40d0a0"/>
<rect x="1016.0" y="852.8" width="8.0" height="4.4" fill="#30c090"/>
<rect x="1016.0" y="856.8" width="6.0" height="3.0" fill="#308060"/>
<rect x="1024.0" y="862.2" width="8.0" height="3.0" fill="#10c0ff"/>
<rect x="1016.0" y="864.8" width="6.7" height="3.0" fill="#0d7ea4"/>
<rect x="1022.2" y="864.8" width="5.8" height="3.0" fill="#12b2e8"/>
<rect x="1020.0" y="874.8" width="8.0" height="3.0" fill="#0020e0"/>
<rect x="1020.0" y="876.8" width="8.0" height="4.4" fill="#0030d0"/>
<rect x="1028.0" y="876.8" width="10.0" height="4.4" fill="#209090"/>
<rect x="1024.0" y="880.8" width="6.1" height="4.4" fill="#0eb5de"/>
<rect x="1029.6" y="880.8" width="6.4" height="4.4" fill="#11dbff"/>
<rect x="1020.0" y="884.8" width="12.7" height="4.4" fill="#1c9b9b"/>
<rect x="1032.2" y="884.8" width="9.8" height="4.4" fill="#22bcbc"/>
<rect x="1028.0" y="888.8" width="4.8" height="4.4" fill="#30b59d"/>
<rect x="1032.3" y="888.8" width="7.7" height="4.4" fill="#45ffe2"/>
<rect x="1024.0" y="892.8" width="8.0" height="4.4" fill="#30c0a0"/>
<rect x="1024.0" y="895.8" width="6.0" height="3.0" fill="#308070"/>
<rect x="1029.8" y="902.2" width="6.5" height="3.0" fill="#0f88d4"/>
<rect x="1035.8" y="902.2" width="7.2" height="3.0" fill="#119aef"/>
<rect x="1024.0" y="904.8" width="8.3" height="3.0" fill="#0e8fd6"/>
<rect x="1031.8" y="904.8" width="6.2" height="3.0" fill="#12b2ff"/>
<rect x="1034.0" y="914.9" width="8.7" height="3.0" fill="#3ce1b4"/>
<rect x="1042.2" y="914.9" width="7.8" height="3.0" fill="#43fac8"/>
<rect x="1026.0" y="917.6" width="9.7" height="4.4" fill="#30a783"/>
<rect x="1035.2" y="917.6" width="12.8" height="4.4" fill="#41e3b3"/>
<rect x="1030.0" y="921.3" width="8.5" height="4.4" fill="#388b62"/>
<rect x="1038.0" y="921.3" width="6.0" height="4.4" fill="#3f9e6e"/>
<rect x="1028.0" y="924.8" width="4.8" height="3.0" fill="#4f9f5d"/>
<rect x="1032.3" y="924.8" width="7.7" height="3.0" fill="#65cb76"/>
<rect x="1040.0" y="930.2" width="5.8" height="3.0" fill="#23a28b"/>
<rect x="1045.3" y="930.2" width="6.7" height="3.0" fill="#31e4c3"/>
<rect x="1032.0" y="933.3" width="7.3" height="4.4" fill="#2bb89c"/>
<rect x="1038.8" y="933.3" width="5.2" height="4.4" fill="#35e4c1"/>
<rect x="1034.0" y="937.5" width="6.3" height="4.4" fill="#1cc4b6"/>
<rect x="1039.8" y="937.5" width="8.2" height="4.4" fill="#20e2d2"/>
<rect x="1048.0" y="937.5" width="6.5" height="4.4" fill="#96d33c"/>
<rect x="1054.0" y="937.5" width="8.0" height="4.4" fill="#a2e241"/>
<rect x="1032.0" y="941.2" width="6.4" height="4.4" fill="#197b7b"/>
<rect x="1037.9" y="941.2" width="8.1" height="4.4" fill="#23b0b0"/>
<rect x="1046.0" y="941.2" width="7.8" height="4.4" fill="#89b237"/>
<rect x="1053.3" y="941.2" width="6.7" height="4.4" fill="#b0e546"/>
<rect x="1036.0" y="944.8" width="9.8" height="4.4" fill="#95c23c"/>
<rect x="1045.3" y="944.8" width="10.7" height="4.4" fill="#aee246"/>
<rect x="1044.0" y="948.8" width="7.3" height="4.4" fill="#63ba3e"/>
<rect x="1050.8" y="948.8" width="9.2" height="4.4" fill="#87fd54"/>
<rect x="1036.0" y="952.8" width="7.9" height="4.4" fill="#73bc48"/>
<rect x="1043.4" y="952.8" width="8.6" height="4.4" fill="#89df56"/>
<rect x="1052.0" y="952.8" width="8.5" height="4.4" fill="#a5b31b"/>
<rect x="1060.0" y="952.8" width="7.0" height="4.4" fill="#c3d421"/>
<rect x="1040.0" y="956.8" width="14.4" height="4.4" fill="#88901e"/>
<rect x="1053.9" y="956.8" width="12.1" height="4.4" fill="#9aa322"/>
<rect x="1038.0" y="960.4" width="15.3" height="4.4" fill="#a1a10c"/>
<rect x="1052.8" y="960.4" width="13.2" height="4.4" fill="#cfcf10"/>
<rect x="1044.0" y="965.6" width="8.8" height="4.4" fill="#89ce37"/>
<rect x="1052.3" y="965.6" width="9.7" height="4.4" fill="#adff45"/>
<rect x="1040.0" y="968.8" width="11.7" height="4.4" fill="#518736"/>
<rect x="1051.2" y="968.8" width="12.8" height="4.4" fill="#5f9f40"/>
<rect x="1036.0" y="971.8" width="11.4" height="4.4" fill="#609c3c"/>
<rect x="1046.9" y="971.8" width="19.1" height="4.4" fill="#83d552"/>
<rect x="1048.0" y="976.8" width="6.3" height="4.4" fill="#60a93c"/>
<rect x="1053.8" y="976.8" width="8.2" height="4.4" fill="#84e652"/>
<rect x="1040.0" y="981.3" width="13.5" height="4.4" fill="#83bd3a"/>
<rect x="1053.0" y="981.3" width="17.0" height="4.4" fill="#a0e747"/>
<rect x="1044.0" y="985.3" width="16.1" height="4.4" fill="#729d2b"/>
<rect x="1059.6" y="985.3" width="10.4" height="4.4" fill="#7ead2f"/>
<rect x="1044.0" y="989.6" width="12.8" height="4.4" fill="#a7d52e"/>
<rect x="1056.3" y="989.6" width="17.7" height="4.4" fill="#bef134"/>
<rect x="1044.0" y="994.8" width="16.3" height="4.4" fill="#879f19"/>
<rect x="1059.8" y="994.8" width="12.2" height="4.4" fill="#b2d320"/>
<rect x="1044.0" y="999.8" width="11.7" height="4.4" fill="#a1bc1b"/>
<rect x="1055.2" y="999.8" width="18.8" height="4.4" fill="#c6e721"/>
<rect x="1044.0" y="1005.3" width="13.6" height="4.4" fill="#849c18"/>
<rect x="1057.1" y="1005.3" width="14.9" height="4.4" fill="#adcd1f"/>
<rect x="1044.0" y="1008.4" width="7.6" height="4.4" fill="#c2c20f"/>
<rect x="1051.1" y="1008.4" width="8.9" height="4.4" fill="#dfdf11"/>
<rect x="1060.0" y="1012.6" width="11.3" height="4.4" fill="#b0760c"/>
<rect x="1070.8" y="1012.6" width="11.2" height="4.4" fill="#faa711"/>
<rect x="1044.0" y="1016.8" width="15.5" height="4.4" fill="#b47d0e"/>
<rect x="1059.0" y="1016.8" width="19.0" height="4.4" fill="#d89511"/>
<rect x="1048.0" y="1020.3" width="14.8" height="4.4" fill="#644b0d"/>
<rect x="1062.3" y="1020.3" width="11.7" height="4.4" fill="#8a6811"/>
<rect x="1048.0" y="1023.8" width="11.0" height="4.4" fill="#a99d0c"/>
<rect x="1058.5" y="1023.8" width="19.5" height="4.4" fill="#f5e311"/>
<rect x="1044.0" y="1028.8" width="16.3" height="4.4" fill="#989819"/>
<rect x="1059.8" y="1028.8" width="12.2" height="4.4" fill="#c1c120"/>
<rect x="1052.0" y="1033.5" width="9.9" height="4.4" fill="#60b26e"/>
<rect x="1061.4" y="1033.5" width="6.6" height="4.4" fill="#6fce7f"/>
<rect x="1044.0" y="1037.8" width="14.8" height="4.4" fill="#5fb152"/>
<rect x="1058.3" y="1037.8" width="9.7" height="4.4" fill="#72d562"/>
<rect x="1048.0" y="1041.8" width="11.9" height="4.4" fill="#40b481"/>
<rect x="1059.4" y="1041.8" width="12.6" height="4.4" fill="#55eeaa"/>
<rect x="1044.0" y="1046.8" width="14.1" height="4.4" fill="#67b541"/>
<rect x="1057.6" y="1046.8" width="16.4" height="4.4" fill="#8bf257"/>
<rect x="1044.0" y="1052.3" width="11.6" height="4.4" fill="#92bd2c"/>
<rect x="1055.1" y="1052.3" width="14.9" height="4.4" fill="#aee234"/>
<rect x="1044.0" y="1055.3" width="16.9" height="4.4" fill="#555b18"/>
<rect x="1060.4" y="1055.3" width="11.6" height="4.4" fill="#7b8423"/>
<rect x="1044.0" y="1058.5" width="18.5" height="4.4" fill="#9e9e0c"/>
<rect x="1062.0" y="1058.5" width="16.0" height="4.4" fill="#e6e612"/>
<rect x="1044.0" y="1063.8" width="16.7" height="3.0" fill="#92920c"/>
<rect x="1060.2" y="1063.8" width="17.8" height="3.0" fill="#c2c210"/>
<rect x="1044.0" y="1097.2" width="23.3" height="3.0" fill="#cb820e"/>
<rect x="1066.8" y="1097.2" width="15.2" height="3.0" fill="#e39210"/>
<rect x="1044.0" y="1100.3" width="15.4" height="4.4" fill="#75460c"/>
<rect x="1058.9" y="1100.3" width="11.1" height="4.4" fill="#ac6711"/>
<rect x="1048.0" y="1104.3" width="15.7" height="4.4" fill="#764a0f"/>
<rect x="1063.2" y="1104.3" width="14.8" height="4.4" fill="#8e5912"/>
<rect x="1044.0" y="1108.8" width="19.7" height="4.4" fill="#cd920f"/>
<rect x="1063.2" y="1108.8" width="16.8" height="4.4" fill="#eaa711"/>
<rect x="1044.0" y="1112.8" width="9.8" height="4.4" fill="#9d690d"/>
<rect x="1053.3" y="1112.8" width="6.7" height="4.4" fill="#d08a11"/>
<rect x="1066.0" y="1112.8" width="8.0" height="4.4" fill="#c3820d"/>
<rect x="1073.5" y="1112.8" width="6.5" height="4.4" fill="#ffaf12"/>
<rect x="1048.0" y="1116.8" width="16.4" height="4.4" fill="#a9790c"/>
<rect x="1063.9" y="1116.8" width="14.1" height="4.4" fill="#eeaa11"/>
<rect x="1046.0" y="1120.3" width="16.5" height="4.4" fill="#a56e0e"/>
<rect x="1062.0" y="1120.3" width="18.0" height="4.4" fill="#bd7e10"/>
<rect x="1044.0" y="1124.3" width="21.5" height="4.4" fill="#c3750d"/>
<rect x="1065.0" y="1124.3" width="19.0" height="4.4" fill="#ff9c11"/>
<rect x="1044.0" y="1129.5" width="16.9" height="4.4" fill="#ae5d0c"/>
<rect x="1060.4" y="1129.5" width="23.6" height="4.4" fill="#fb8611"/>
<rect x="1048.0" y="1134.8" width="16.8" height="4.4" fill="#c9900e"/>
<rect x="1064.3" y="1134.8" width="15.7" height="4.4" fill="#eca911"/>
<rect x="1048.0" y="1139.8" width="10.0" height="4.4" fill="#c08010"/>
<rect x="1070.0" y="1139.8" width="10.0" height="4.4" fill="#e0a010"/>
<rect x="1048.0" y="1145.2" width="21.0" height="4.4" fill="#b6790c"/>
<rect x="1068.5" y="1145.2" width="15.5" height="4.4" fill="#efa010"/>
<rect x="1060.0" y="1148.3" width="11.3" height="4.4" fill="#d17d0e"/>
<rect x="1070.8" y="1148.3" width="13.2" height="4.4" fill="#ff9d11"/>
<rect x="1048.0" y="1152.5" width="6.4" height="4.4" fill="#c0600e"/>
<rect x="1053.9" y="1152.5" width="10.1" height="4.4" fill="#e67310"/>
<rect x="1060.0" y="1154.8" width="7.2" height="4.4" fill="#5f8f30"/>
<rect x="1066.7" y="1154.8" width="7.3" height="4.4" fill="#80c040"/>
<rect x="1056.0" y="1157.8" width="8.6" height="4.4" fill="#66b340"/>
<rect x="1064.1" y="1157.8" width="7.9" height="4.4" fill="#8ffa59"/>
<rect x="1050.0" y="1160.8" width="7.2" height="4.4" fill="#4d8033"/>
<rect x="1056.7" y="1160.8" width="7.3" height="4.4" fill="#61a140"/>
<rect x="1046.0" y="1163.8" width="10.0" height="3.0" fill="#80d050"/>
<rect x="1060.0" y="1173.2" width="8.2" height="3.0" fill="#5e8628"/>
<rect x="1067.7" y="1173.2" width="8.3" height="3.0" fill="#72a331"/>
<rect x="1052.0" y="1175.5" width="14.1" height="4.4" fill="#86ae36"/>
<rect x="1065.6" y="1175.5" width="9.4" height="4.4" fill="#aee246"/>
<rect x="1048.0" y="1178.8" width="6.8" height="4.4" fill="#75a03a"/>
<rect x="1054.3" y="1178.8" width="5.7" height="4.4" fill="#7faf40"/>
<rect x="1044.0" y="1180.8" width="8.0" height="3.0" fill="#70b040"/>
<rect x="1062.0" y="1189.8" width="11.1" height="3.0" fill="#97ce29"/>
<rect x="1072.6" y="1189.8" width="7.4" height="3.0" fill="#b1f130"/>
<rect x="1048.0" y="1192.6" width="12.5" height="3.0" fill="#6a9823"/>
<rect x="1060.0" y="1192.6" width="12.0" height="3.0" fill="#96d832"/>
<rect x="1064.0" y="1201.9" width="6.5" height="3.0" fill="#98a40c"/>
<rect x="1070.0" y="1201.9" width="10.0" height="3.0" fill="#d9ea11"/>
<rect x="1048.0" y="1204.8" width="16.2" height="4.4" fill="#acac0e"/>
<rect x="1063.7" y="1204.8" width="12.3" height="4.4" fill="#d5d512"/>
<rect x="1064.0" y="1208.8" width="9.2" height="4.4" fill="#98b31c"/>
<rect x="1072.7" y="1208.8" width="7.3" height="4.4" fill="#bbdd22"/>
<rect x="1048.0" y="1211.8" width="14.7" height="4.4" fill="#849c18"/>
<rect x="1062.2" y="1211.8" width="9.8" height="4.4" fill="#b9db22"/>
<rect x="1056.0" y="1215.3" width="9.3" height="4.4" fill="#518b45"/>
<rect x="1064.8" y="1215.3" width="9.2" height="4.4" fill="#7bd46a"/>
<rect x="1056.0" y="1218.3" width="8.8" height="4.4" fill="#33c099"/>
<rect x="1064.3" y="1218.3" width="7.7" height="4.4" fill="#46ffd2"/>
<rect x="1052.0" y="1221.8" width="9.9" height="4.4" fill="#39c7aa"/>
<rect x="1061.4" y="1221.8" width="10.6" height="4.4" fill="#44edcb"/>
<rect x="1048.0" y="1224.5" width="14.1" height="4.4" fill="#36c9a1"/>
<rect x="1061.6" y="1224.5" width="10.4" height="4.4" fill="#40eebf"/>
<rect x="1044.0" y="1228.8" width="8.0" height="4.4" fill="#10b0e0"/>
<rect x="1052.0" y="1228.8" width="11.3" height="4.4" fill="#31ba94"/>
<rect x="1062.8" y="1228.8" width="9.2" height="4.4" fill="#44fecc"/>
<rect x="1048.0" y="1232.8" width="14.5" height="4.4" fill="#2bc7aa"/>
<rect x="1062.0" y="1232.8" width="10.0" height="4.4" fill="#30debe"/>
<rect x="1056.0" y="1235.8" width="8.3" height="3.0" fill="#2d8879"/>
<rect x="1063.8" y="1235.8" width="6.2" height="3.0" fill="#329686"/>
</g>
<g class="fS"><text class="s" x="282" y="265" textLength="129" lengthAdjust="spacingAndGlyphs">S1</text><text class="s" x="588" y="265" textLength="128" lengthAdjust="spacingAndGlyphs">S2</text><text class="s" x="922" y="265" textLength="126" lengthAdjust="spacingAndGlyphs">S3</text></g>
</g>
<g class="fC">
<text class="tk" transform="translate(1431,58.2) scale(1,.94)" textLength="122" lengthAdjust="spacingAndGlyphs">0.225</text>
<text class="tk" transform="translate(1431,230.4) scale(1,.94)" textLength="122" lengthAdjust="spacingAndGlyphs">0.200</text>
<text class="tk" transform="translate(1431,402.5) scale(1,.94)" textLength="122" lengthAdjust="spacingAndGlyphs">0.175</text>
<text class="tk" transform="translate(1431,574.7) scale(1,.94)" textLength="122" lengthAdjust="spacingAndGlyphs">0.150</text>
<text class="tk" transform="translate(1431,746.8) scale(1,.94)" textLength="122" lengthAdjust="spacingAndGlyphs">0.125</text>
<text class="tk" transform="translate(1431,919.0) scale(1,.94)" textLength="122" lengthAdjust="spacingAndGlyphs">0.100</text>
<text class="tk" transform="translate(1431,1091.1) scale(1,.94)" textLength="122" lengthAdjust="spacingAndGlyphs">0.075</text>
<text class="tk" transform="translate(1431,1263.2) scale(1,.94)" textLength="122" lengthAdjust="spacingAndGlyphs">0.050</text>
<text class="tk" transform="translate(1431,1435.4) scale(1,.94)" textLength="122" lengthAdjust="spacingAndGlyphs">0.025</text>
</g>
<g class="fY">
<text class="tk" transform="translate(167.5,172.0) scale(1,.94)" text-anchor="end" letter-spacing="-3">30</text>
<text class="tk" transform="translate(167.5,382.4) scale(1,.94)" text-anchor="end" letter-spacing="-3">25</text>
<text class="tk" transform="translate(167.5,592.7) scale(1,.94)" text-anchor="end" letter-spacing="-3">20</text>
<text class="tk" transform="translate(167.5,803.1) scale(1,.94)" text-anchor="end" letter-spacing="-3">15</text>
<text class="tk" transform="translate(167.5,1013.5) scale(1,.94)" text-anchor="end" letter-spacing="-3">10</text>
<text class="tk" transform="translate(167.5,1223.8) scale(1,.94)" text-anchor="end" letter-spacing="-3">5</text>
<text class="tk" transform="translate(167.5,1434.2) scale(1,.94)" text-anchor="end" letter-spacing="-3">0</text>
</g>
<g class="fX">
<text class="tk" transform="translate(273.0,1560) scale(1,.94)" text-anchor="middle" letter-spacing="-3">5</text>
<text class="tk" transform="translate(482.6,1560) scale(1,.94)" text-anchor="middle" letter-spacing="-3">10</text>
<text class="tk" transform="translate(692.2,1560) scale(1,.94)" text-anchor="middle" letter-spacing="-3">15</text>
<text class="tk" transform="translate(901.8,1560) scale(1,.94)" text-anchor="middle" letter-spacing="-3">20</text>
<text class="tk" transform="translate(1111.4,1560) scale(1,.94)" text-anchor="middle" letter-spacing="-3">25</text>
</g>
<g class="fL1"><text class="lab" x="485" y="1651" textLength="439" lengthAdjust="spacingAndGlyphs"><tspan font-style="italic">x</tspan> co-ordinates (m)</text></g>
<g class="fL2"><text class="lab" transform="translate(65,982) rotate(-90)" textLength="435" lengthAdjust="spacingAndGlyphs"><tspan font-style="italic">y</tspan> co-ordinates (m)</text></g>
<g class="fL3"><text class="lab" transform="translate(1625,1096) rotate(-90)" textLength="660" word-spacing="5" lengthAdjust="spacingAndGlyphs">Velocity magnitude (m s<tspan font-size="42" dy="-22">−1</tspan><tspan dy="22">)</tspan></text></g>
<g class="fB">
<path fill="#000" fill-rule="evenodd" d="M189.0 27.0 H1223.0 V1500.4 H189.0 Z M192.8 30.8 H1219.2 V1496.6 H192.8 Z"/>
<rect x="1315.2" y="23.0" width="83.8" height="1481.4" fill="#f4f4f4"/>
<rect x="1319.2" y="27.0" width="75.8" height="1473.4" fill="#000"/>
<rect x="1323.0" y="30.8" width="68.2" height="1465.8" fill="url(#jet)"/>
<rect x="1395.0" y="34.2" width="19" height="3.8" fill="#000"/><rect x="1395.0" y="207.0" width="19" height="3.8" fill="#000"/><rect x="1395.0" y="379.8" width="19" height="3.8" fill="#000"/><rect x="1395.0" y="552.6" width="19" height="3.8" fill="#000"/><rect x="1395.0" y="725.4" width="19" height="3.8" fill="#000"/><rect x="1395.0" y="898.2" width="19" height="3.8" fill="#000"/><rect x="1395.0" y="1071.0" width="19" height="3.8" fill="#000"/><rect x="1395.0" y="1243.8" width="19" height="3.8" fill="#000"/><rect x="1395.0" y="1416.6" width="19" height="3.8" fill="#000"/>
</g>
</svg>
</body></html>
